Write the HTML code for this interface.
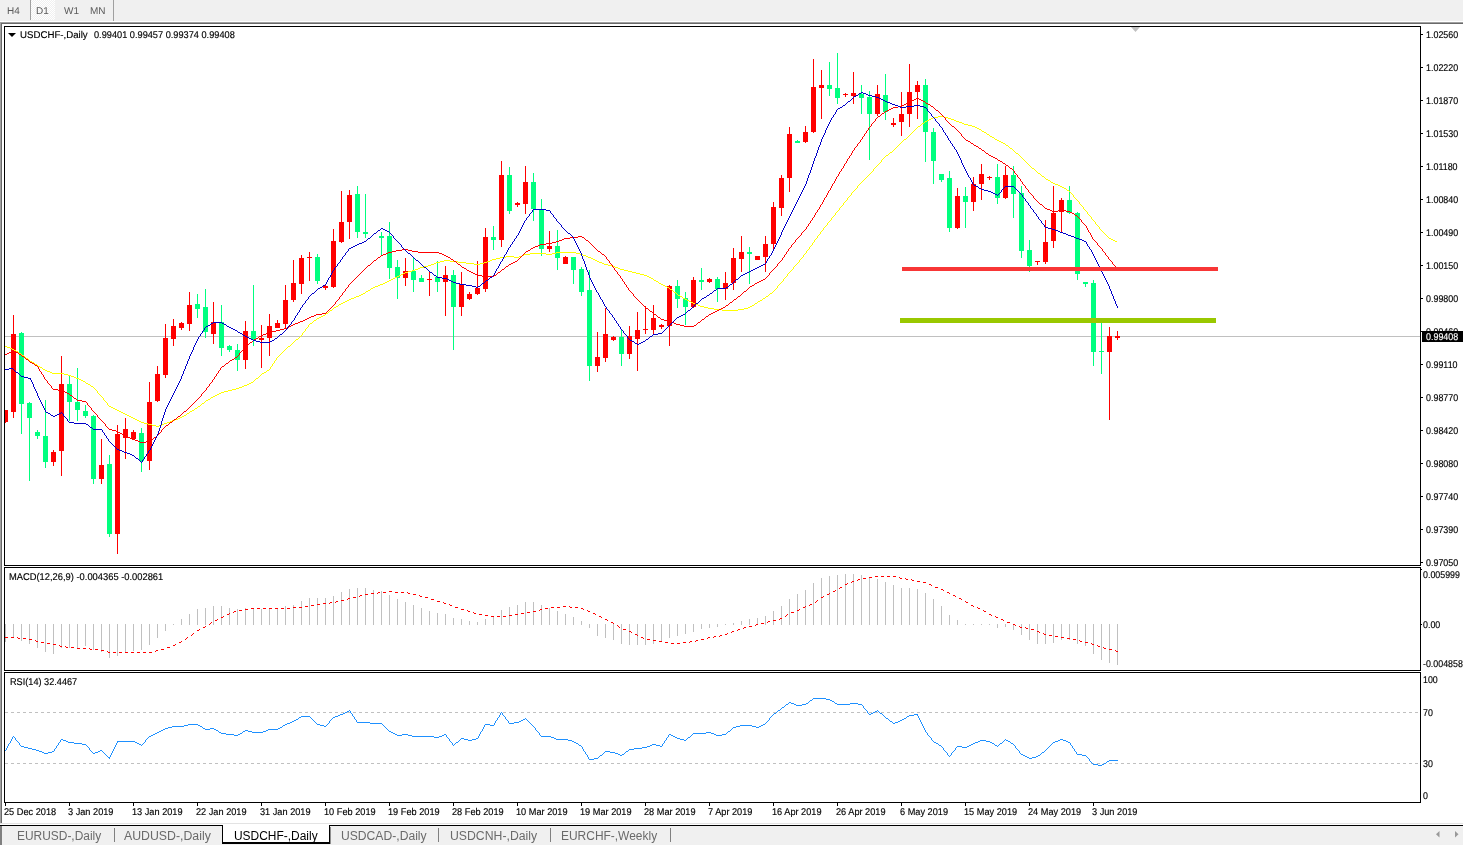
<!DOCTYPE html><html><head><meta charset="utf-8"><title>USDCHF-,Daily</title><style>
html,body{margin:0;padding:0;background:#fff;}
body{width:1463px;height:845px;overflow:hidden;position:relative;font-family:"Liberation Sans",sans-serif;}
#tb{position:absolute;left:0;top:0;width:1463px;height:22px;background:#f0f0f0;}
.tbt{position:absolute;top:4.6px;font-size:9.8px;line-height:12px;transform-origin:0 50%;transform:matrix(1.02,0,0.001,1,0,0);color:#5a5a5a;}
.t{position:absolute;color:#000;white-space:nowrap;transform-origin:0 50%;-webkit-text-stroke:0.15px currentColor;}
.tab{position:absolute;top:828.5px;transform-origin:0 50%;font-size:12px;line-height:14px;color:#6a6a6a;white-space:nowrap;}
svg{position:absolute;left:0;top:0;}

</style></head><body>
<div id="tb"></div>
<svg width="1463" height="845" viewBox="0 0 1463 845" shape-rendering="crispEdges">
<defs><pattern id="dot" width="2" height="2" patternUnits="userSpaceOnUse"><rect width="2" height="2" fill="#f0f0f0"/><rect width="1" height="1" fill="#fff"/><rect x="1" y="1" width="1" height="1" fill="#fff"/></pattern></defs>
<rect x="31" y="0" width="24" height="20" fill="url(#dot)"/>
<rect x="30" y="0" width="1" height="20" fill="#a0a0a0"/>
<rect x="113" y="0" width="1" height="21" fill="#a0a0a0"/>
<rect x="0" y="21" width="1463" height="1" fill="#fff"/>
<rect x="0" y="22" width="1463" height="1" fill="#a0a0a0"/>
<rect x="0" y="23" width="1463" height="1" fill="#696969"/>
<rect x="0" y="23" width="1" height="800" fill="#a0a0a0"/>
<rect x="1" y="24" width="1" height="799" fill="#696969"/>
<rect x="0" y="823" width="1463" height="1" fill="#e3e3e3"/>
<rect x="0" y="826" width="1463" height="19" fill="#f0f0f0"/>
<rect x="0" y="825" width="2" height="20" fill="#808080"/>
<rect x="0" y="825" width="223" height="1" fill="#000"/>
<rect x="329" y="825" width="1134" height="1" fill="#000"/>
<rect x="223" y="824" width="106" height="19" fill="#fff"/>
<rect x="222" y="825" width="1" height="18" fill="#000"/>
<rect x="329" y="825" width="1" height="18" fill="#000"/>
<rect x="222" y="842" width="108" height="1" fill="#000"/>
<rect x="222" y="843" width="108" height="1" fill="#000"/>
<rect x="330" y="827" width="1" height="17" fill="#909090"/>
<rect x="114" y="828" width="1" height="14" fill="#808080"/>
<rect x="438" y="828" width="1" height="14" fill="#808080"/>
<rect x="550" y="828" width="1" height="14" fill="#808080"/>
<rect x="670" y="828" width="1" height="14" fill="#808080"/>
<polygon points="1439.5,831 1439.5,837.5 1436,834.25" fill="#999" shape-rendering="auto"/>
<polygon points="1455,831 1455,837.5 1458.5,834.25" fill="#999" shape-rendering="auto"/>
<rect x="4" y="26" width="1417" height="1" fill="#000"/>
<rect x="4" y="565" width="1417" height="1" fill="#000"/>
<rect x="4" y="567" width="1417" height="1" fill="#000"/>
<rect x="4" y="670" width="1417" height="1" fill="#000"/>
<rect x="4" y="672" width="1417" height="1" fill="#000"/>
<rect x="4" y="802" width="1417" height="1" fill="#000"/>
<rect x="4" y="26" width="1" height="540" fill="#000"/>
<rect x="1420" y="26" width="1" height="540" fill="#000"/>
<rect x="4" y="567" width="1" height="104" fill="#000"/>
<rect x="1420" y="567" width="1" height="104" fill="#000"/>
<rect x="4" y="672" width="1" height="131" fill="#000"/>
<rect x="1420" y="672" width="1" height="131" fill="#000"/>
<rect x="1421" y="34" width="2" height="1" fill="#000"/>
<rect x="1421" y="67" width="2" height="1" fill="#000"/>
<rect x="1421" y="100" width="2" height="1" fill="#000"/>
<rect x="1421" y="133" width="2" height="1" fill="#000"/>
<rect x="1421" y="166" width="2" height="1" fill="#000"/>
<rect x="1421" y="199" width="2" height="1" fill="#000"/>
<rect x="1421" y="232" width="2" height="1" fill="#000"/>
<rect x="1421" y="265" width="2" height="1" fill="#000"/>
<rect x="1421" y="298" width="2" height="1" fill="#000"/>
<rect x="1421" y="331" width="2" height="1" fill="#000"/>
<rect x="1421" y="364" width="2" height="1" fill="#000"/>
<rect x="1421" y="397" width="2" height="1" fill="#000"/>
<rect x="1421" y="430" width="2" height="1" fill="#000"/>
<rect x="1421" y="463" width="2" height="1" fill="#000"/>
<rect x="1421" y="496" width="2" height="1" fill="#000"/>
<rect x="1421" y="529" width="2" height="1" fill="#000"/>
<rect x="1421" y="562" width="2" height="1" fill="#000"/>
<polygon points="1131,27 1140,27 1135.5,32" fill="#c0c0c0" shape-rendering="auto"/>
<polygon points="8,33 16,33 12,37" fill="#000" shape-rendering="auto"/>
<rect x="5" y="336" width="1415" height="1" fill="#c0c0c0"/>
<rect x="5" y="410" width="1" height="13" fill="#ff0000"/>
<rect x="5" y="410" width="3" height="12" fill="#ff0000"/>
<rect x="13" y="315" width="1" height="103" fill="#ff0000"/>
<rect x="11" y="334" width="5" height="78" fill="#ff0000"/>
<rect x="21" y="332" width="1" height="102" fill="#00ff7f"/>
<rect x="19" y="333" width="5" height="71" fill="#00ff7f"/>
<rect x="29" y="402" width="1" height="79" fill="#00ff7f"/>
<rect x="27" y="403" width="5" height="15" fill="#00ff7f"/>
<rect x="37" y="430" width="1" height="9" fill="#00ff7f"/>
<rect x="35" y="432" width="5" height="4" fill="#00ff7f"/>
<rect x="45" y="400" width="1" height="68" fill="#00ff7f"/>
<rect x="43" y="436" width="5" height="26" fill="#00ff7f"/>
<rect x="53" y="450" width="1" height="16" fill="#ff0000"/>
<rect x="51" y="452" width="5" height="10" fill="#ff0000"/>
<rect x="61" y="356" width="1" height="120" fill="#ff0000"/>
<rect x="59" y="384" width="5" height="67" fill="#ff0000"/>
<rect x="69" y="376" width="1" height="45" fill="#00ff7f"/>
<rect x="67" y="384" width="5" height="18" fill="#00ff7f"/>
<rect x="77" y="368" width="1" height="53" fill="#00ff7f"/>
<rect x="75" y="402" width="5" height="8" fill="#00ff7f"/>
<rect x="85" y="405" width="1" height="13" fill="#00ff7f"/>
<rect x="83" y="411" width="5" height="5" fill="#00ff7f"/>
<rect x="93" y="415" width="1" height="69" fill="#00ff7f"/>
<rect x="91" y="416" width="5" height="63" fill="#00ff7f"/>
<rect x="101" y="439" width="1" height="45" fill="#ff0000"/>
<rect x="99" y="465" width="5" height="14" fill="#ff0000"/>
<rect x="109" y="455" width="1" height="82" fill="#00ff7f"/>
<rect x="107" y="464" width="5" height="70" fill="#00ff7f"/>
<rect x="117" y="425" width="1" height="129" fill="#ff0000"/>
<rect x="115" y="434" width="5" height="100" fill="#ff0000"/>
<rect x="125" y="418" width="1" height="41" fill="#ff0000"/>
<rect x="123" y="429" width="5" height="9" fill="#ff0000"/>
<rect x="133" y="430" width="1" height="10" fill="#ff0000"/>
<rect x="131" y="432" width="5" height="7" fill="#ff0000"/>
<rect x="141" y="428" width="1" height="44" fill="#00ff7f"/>
<rect x="139" y="433" width="5" height="28" fill="#00ff7f"/>
<rect x="149" y="382" width="1" height="88" fill="#ff0000"/>
<rect x="147" y="402" width="5" height="59" fill="#ff0000"/>
<rect x="157" y="366" width="1" height="36" fill="#ff0000"/>
<rect x="155" y="374" width="5" height="27" fill="#ff0000"/>
<rect x="165" y="324" width="1" height="54" fill="#ff0000"/>
<rect x="163" y="338" width="5" height="37" fill="#ff0000"/>
<rect x="173" y="319" width="1" height="27" fill="#ff0000"/>
<rect x="171" y="326" width="5" height="13" fill="#ff0000"/>
<rect x="181" y="322" width="1" height="8" fill="#ff0000"/>
<rect x="179" y="323" width="5" height="5" fill="#ff0000"/>
<rect x="189" y="292" width="1" height="39" fill="#ff0000"/>
<rect x="187" y="305" width="5" height="19" fill="#ff0000"/>
<rect x="197" y="294" width="1" height="24" fill="#00ff7f"/>
<rect x="195" y="304" width="5" height="5" fill="#00ff7f"/>
<rect x="205" y="289" width="1" height="49" fill="#00ff7f"/>
<rect x="203" y="307" width="5" height="25" fill="#00ff7f"/>
<rect x="213" y="302" width="1" height="42" fill="#ff0000"/>
<rect x="211" y="322" width="5" height="12" fill="#ff0000"/>
<rect x="221" y="305" width="1" height="51" fill="#00ff7f"/>
<rect x="219" y="322" width="5" height="26" fill="#00ff7f"/>
<rect x="229" y="345" width="1" height="7" fill="#00ff7f"/>
<rect x="227" y="346" width="5" height="4" fill="#00ff7f"/>
<rect x="237" y="344" width="1" height="27" fill="#00ff7f"/>
<rect x="235" y="350" width="5" height="10" fill="#00ff7f"/>
<rect x="245" y="321" width="1" height="48" fill="#ff0000"/>
<rect x="243" y="331" width="5" height="29" fill="#ff0000"/>
<rect x="253" y="285" width="1" height="61" fill="#00ff7f"/>
<rect x="251" y="331" width="5" height="8" fill="#00ff7f"/>
<rect x="261" y="325" width="1" height="43" fill="#ff0000"/>
<rect x="259" y="338" width="5" height="2" fill="#ff0000"/>
<rect x="269" y="314" width="1" height="42" fill="#ff0000"/>
<rect x="267" y="326" width="5" height="12" fill="#ff0000"/>
<rect x="277" y="320" width="1" height="8" fill="#ff0000"/>
<rect x="275" y="323" width="5" height="5" fill="#ff0000"/>
<rect x="285" y="285" width="1" height="43" fill="#ff0000"/>
<rect x="283" y="300" width="5" height="24" fill="#ff0000"/>
<rect x="293" y="260" width="1" height="42" fill="#ff0000"/>
<rect x="291" y="283" width="5" height="17" fill="#ff0000"/>
<rect x="301" y="255" width="1" height="39" fill="#ff0000"/>
<rect x="299" y="258" width="5" height="26" fill="#ff0000"/>
<rect x="309" y="252" width="1" height="29" fill="#ff0000"/>
<rect x="307" y="257" width="5" height="1" fill="#ff0000"/>
<rect x="317" y="254" width="1" height="30" fill="#00ff7f"/>
<rect x="315" y="257" width="5" height="24" fill="#00ff7f"/>
<rect x="325" y="284" width="1" height="6" fill="#ff0000"/>
<rect x="323" y="286" width="5" height="2" fill="#ff0000"/>
<rect x="333" y="229" width="1" height="59" fill="#ff0000"/>
<rect x="331" y="241" width="5" height="46" fill="#ff0000"/>
<rect x="341" y="191" width="1" height="52" fill="#ff0000"/>
<rect x="339" y="222" width="5" height="20" fill="#ff0000"/>
<rect x="349" y="190" width="1" height="49" fill="#ff0000"/>
<rect x="347" y="195" width="5" height="27" fill="#ff0000"/>
<rect x="357" y="186" width="1" height="52" fill="#00ff7f"/>
<rect x="355" y="194" width="5" height="38" fill="#00ff7f"/>
<rect x="365" y="194" width="1" height="44" fill="#00ff7f"/>
<rect x="363" y="232" width="5" height="2" fill="#00ff7f"/>
<rect x="381" y="232" width="1" height="23" fill="#00ff7f"/>
<rect x="379" y="236" width="5" height="2" fill="#00ff7f"/>
<rect x="389" y="222" width="1" height="57" fill="#00ff7f"/>
<rect x="387" y="236" width="5" height="32" fill="#00ff7f"/>
<rect x="397" y="260" width="1" height="39" fill="#00ff7f"/>
<rect x="395" y="267" width="5" height="11" fill="#00ff7f"/>
<rect x="405" y="258" width="1" height="28" fill="#ff0000"/>
<rect x="403" y="271" width="5" height="7" fill="#ff0000"/>
<rect x="413" y="258" width="1" height="34" fill="#00ff7f"/>
<rect x="411" y="271" width="5" height="9" fill="#00ff7f"/>
<rect x="421" y="275" width="1" height="7" fill="#00ff7f"/>
<rect x="419" y="278" width="5" height="4" fill="#00ff7f"/>
<rect x="429" y="272" width="1" height="24" fill="#ff0000"/>
<rect x="427" y="279" width="5" height="1" fill="#ff0000"/>
<rect x="437" y="261" width="1" height="31" fill="#00ff7f"/>
<rect x="435" y="277" width="5" height="5" fill="#00ff7f"/>
<rect x="445" y="266" width="1" height="50" fill="#ff0000"/>
<rect x="443" y="275" width="5" height="7" fill="#ff0000"/>
<rect x="453" y="270" width="1" height="80" fill="#00ff7f"/>
<rect x="451" y="275" width="5" height="32" fill="#00ff7f"/>
<rect x="461" y="272" width="1" height="44" fill="#ff0000"/>
<rect x="459" y="284" width="5" height="23" fill="#ff0000"/>
<rect x="469" y="292" width="1" height="8" fill="#ff0000"/>
<rect x="467" y="294" width="5" height="5" fill="#ff0000"/>
<rect x="477" y="261" width="1" height="34" fill="#ff0000"/>
<rect x="475" y="288" width="5" height="6" fill="#ff0000"/>
<rect x="485" y="228" width="1" height="64" fill="#ff0000"/>
<rect x="483" y="237" width="5" height="52" fill="#ff0000"/>
<rect x="493" y="226" width="1" height="24" fill="#00ff7f"/>
<rect x="491" y="237" width="5" height="3" fill="#00ff7f"/>
<rect x="501" y="161" width="1" height="86" fill="#ff0000"/>
<rect x="499" y="175" width="5" height="65" fill="#ff0000"/>
<rect x="509" y="167" width="1" height="47" fill="#00ff7f"/>
<rect x="507" y="175" width="5" height="36" fill="#00ff7f"/>
<rect x="517" y="202" width="1" height="5" fill="#ff0000"/>
<rect x="515" y="203" width="5" height="2" fill="#ff0000"/>
<rect x="525" y="166" width="1" height="48" fill="#ff0000"/>
<rect x="523" y="182" width="5" height="22" fill="#ff0000"/>
<rect x="533" y="173" width="1" height="48" fill="#00ff7f"/>
<rect x="531" y="182" width="5" height="27" fill="#00ff7f"/>
<rect x="541" y="199" width="1" height="57" fill="#00ff7f"/>
<rect x="539" y="209" width="5" height="40" fill="#00ff7f"/>
<rect x="549" y="231" width="1" height="21" fill="#ff0000"/>
<rect x="547" y="246" width="5" height="3" fill="#ff0000"/>
<rect x="557" y="230" width="1" height="40" fill="#00ff7f"/>
<rect x="555" y="246" width="5" height="12" fill="#00ff7f"/>
<rect x="565" y="256" width="1" height="8" fill="#ff0000"/>
<rect x="563" y="257" width="5" height="7" fill="#ff0000"/>
<rect x="573" y="257" width="1" height="27" fill="#00ff7f"/>
<rect x="571" y="257" width="5" height="13" fill="#00ff7f"/>
<rect x="581" y="267" width="1" height="29" fill="#00ff7f"/>
<rect x="579" y="269" width="5" height="23" fill="#00ff7f"/>
<rect x="589" y="270" width="1" height="111" fill="#00ff7f"/>
<rect x="587" y="290" width="5" height="76" fill="#00ff7f"/>
<rect x="597" y="332" width="1" height="40" fill="#ff0000"/>
<rect x="595" y="357" width="5" height="9" fill="#ff0000"/>
<rect x="605" y="308" width="1" height="54" fill="#ff0000"/>
<rect x="603" y="334" width="5" height="24" fill="#ff0000"/>
<rect x="613" y="336" width="1" height="5" fill="#ff0000"/>
<rect x="611" y="337" width="5" height="3" fill="#ff0000"/>
<rect x="621" y="330" width="1" height="36" fill="#00ff7f"/>
<rect x="619" y="337" width="5" height="17" fill="#00ff7f"/>
<rect x="629" y="326" width="1" height="33" fill="#ff0000"/>
<rect x="627" y="336" width="5" height="18" fill="#ff0000"/>
<rect x="637" y="312" width="1" height="59" fill="#ff0000"/>
<rect x="635" y="330" width="5" height="9" fill="#ff0000"/>
<rect x="645" y="306" width="1" height="28" fill="#ff0000"/>
<rect x="643" y="329" width="5" height="1" fill="#ff0000"/>
<rect x="653" y="305" width="1" height="29" fill="#ff0000"/>
<rect x="651" y="318" width="5" height="12" fill="#ff0000"/>
<rect x="661" y="324" width="1" height="5" fill="#ff0000"/>
<rect x="659" y="325" width="5" height="2" fill="#ff0000"/>
<rect x="669" y="285" width="1" height="61" fill="#ff0000"/>
<rect x="667" y="286" width="5" height="40" fill="#ff0000"/>
<rect x="677" y="280" width="1" height="28" fill="#00ff7f"/>
<rect x="675" y="286" width="5" height="13" fill="#00ff7f"/>
<rect x="685" y="292" width="1" height="33" fill="#00ff7f"/>
<rect x="683" y="298" width="5" height="9" fill="#00ff7f"/>
<rect x="693" y="277" width="1" height="31" fill="#ff0000"/>
<rect x="691" y="280" width="5" height="27" fill="#ff0000"/>
<rect x="701" y="268" width="1" height="22" fill="#00ff7f"/>
<rect x="699" y="280" width="5" height="2" fill="#00ff7f"/>
<rect x="709" y="278" width="1" height="5" fill="#ff0000"/>
<rect x="707" y="279" width="5" height="3" fill="#ff0000"/>
<rect x="717" y="277" width="1" height="25" fill="#00ff7f"/>
<rect x="715" y="279" width="5" height="10" fill="#00ff7f"/>
<rect x="725" y="272" width="1" height="28" fill="#ff0000"/>
<rect x="723" y="283" width="5" height="6" fill="#ff0000"/>
<rect x="733" y="248" width="1" height="42" fill="#ff0000"/>
<rect x="731" y="258" width="5" height="25" fill="#ff0000"/>
<rect x="741" y="236" width="1" height="36" fill="#ff0000"/>
<rect x="739" y="252" width="5" height="7" fill="#ff0000"/>
<rect x="749" y="247" width="1" height="37" fill="#00ff7f"/>
<rect x="747" y="252" width="5" height="2" fill="#00ff7f"/>
<rect x="757" y="256" width="1" height="4" fill="#ff0000"/>
<rect x="755" y="256" width="5" height="4" fill="#ff0000"/>
<rect x="765" y="236" width="1" height="36" fill="#ff0000"/>
<rect x="763" y="244" width="5" height="13" fill="#ff0000"/>
<rect x="773" y="202" width="1" height="48" fill="#ff0000"/>
<rect x="771" y="207" width="5" height="37" fill="#ff0000"/>
<rect x="781" y="175" width="1" height="41" fill="#ff0000"/>
<rect x="779" y="178" width="5" height="30" fill="#ff0000"/>
<rect x="789" y="127" width="1" height="65" fill="#ff0000"/>
<rect x="787" y="134" width="5" height="44" fill="#ff0000"/>
<rect x="797" y="140" width="1" height="3" fill="#00ff7f"/>
<rect x="795" y="141" width="5" height="2" fill="#00ff7f"/>
<rect x="805" y="126" width="1" height="17" fill="#ff0000"/>
<rect x="803" y="132" width="5" height="10" fill="#ff0000"/>
<rect x="813" y="59" width="1" height="74" fill="#ff0000"/>
<rect x="811" y="87" width="5" height="45" fill="#ff0000"/>
<rect x="821" y="70" width="1" height="49" fill="#ff0000"/>
<rect x="819" y="85" width="5" height="3" fill="#ff0000"/>
<rect x="829" y="62" width="1" height="34" fill="#00ff7f"/>
<rect x="827" y="85" width="5" height="4" fill="#00ff7f"/>
<rect x="837" y="53" width="1" height="51" fill="#00ff7f"/>
<rect x="835" y="88" width="5" height="10" fill="#00ff7f"/>
<rect x="845" y="93" width="1" height="4" fill="#ff0000"/>
<rect x="843" y="94" width="5" height="1" fill="#ff0000"/>
<rect x="853" y="72" width="1" height="32" fill="#ff0000"/>
<rect x="851" y="93" width="5" height="3" fill="#ff0000"/>
<rect x="861" y="85" width="1" height="29" fill="#00ff7f"/>
<rect x="859" y="94" width="5" height="4" fill="#00ff7f"/>
<rect x="869" y="91" width="1" height="69" fill="#00ff7f"/>
<rect x="867" y="97" width="5" height="17" fill="#00ff7f"/>
<rect x="877" y="85" width="1" height="31" fill="#ff0000"/>
<rect x="875" y="94" width="5" height="20" fill="#ff0000"/>
<rect x="885" y="74" width="1" height="46" fill="#00ff7f"/>
<rect x="883" y="95" width="5" height="17" fill="#00ff7f"/>
<rect x="893" y="118" width="1" height="9" fill="#ff0000"/>
<rect x="891" y="123" width="5" height="2" fill="#ff0000"/>
<rect x="901" y="92" width="1" height="44" fill="#ff0000"/>
<rect x="899" y="114" width="5" height="8" fill="#ff0000"/>
<rect x="909" y="64" width="1" height="63" fill="#ff0000"/>
<rect x="907" y="92" width="5" height="22" fill="#ff0000"/>
<rect x="917" y="81" width="1" height="38" fill="#ff0000"/>
<rect x="915" y="85" width="5" height="7" fill="#ff0000"/>
<rect x="925" y="79" width="1" height="83" fill="#00ff7f"/>
<rect x="923" y="85" width="5" height="47" fill="#00ff7f"/>
<rect x="933" y="128" width="1" height="56" fill="#00ff7f"/>
<rect x="931" y="132" width="5" height="29" fill="#00ff7f"/>
<rect x="941" y="174" width="1" height="8" fill="#00ff7f"/>
<rect x="939" y="174" width="5" height="6" fill="#00ff7f"/>
<rect x="949" y="171" width="1" height="61" fill="#00ff7f"/>
<rect x="947" y="178" width="5" height="50" fill="#00ff7f"/>
<rect x="957" y="188" width="1" height="41" fill="#ff0000"/>
<rect x="955" y="196" width="5" height="32" fill="#ff0000"/>
<rect x="965" y="187" width="1" height="41" fill="#00ff7f"/>
<rect x="963" y="196" width="5" height="6" fill="#00ff7f"/>
<rect x="973" y="177" width="1" height="34" fill="#ff0000"/>
<rect x="971" y="184" width="5" height="18" fill="#ff0000"/>
<rect x="981" y="164" width="1" height="36" fill="#ff0000"/>
<rect x="979" y="174" width="5" height="10" fill="#ff0000"/>
<rect x="989" y="176" width="1" height="4" fill="#ff0000"/>
<rect x="987" y="177" width="5" height="1" fill="#ff0000"/>
<rect x="997" y="164" width="1" height="40" fill="#00ff7f"/>
<rect x="995" y="177" width="5" height="21" fill="#00ff7f"/>
<rect x="1005" y="166" width="1" height="33" fill="#ff0000"/>
<rect x="1003" y="175" width="5" height="23" fill="#ff0000"/>
<rect x="1013" y="166" width="1" height="52" fill="#00ff7f"/>
<rect x="1011" y="175" width="5" height="19" fill="#00ff7f"/>
<rect x="1021" y="186" width="1" height="72" fill="#00ff7f"/>
<rect x="1019" y="193" width="5" height="58" fill="#00ff7f"/>
<rect x="1029" y="240" width="1" height="32" fill="#00ff7f"/>
<rect x="1027" y="250" width="5" height="16" fill="#00ff7f"/>
<rect x="1037" y="261" width="1" height="4" fill="#ff0000"/>
<rect x="1035" y="261" width="5" height="1" fill="#ff0000"/>
<rect x="1045" y="220" width="1" height="44" fill="#ff0000"/>
<rect x="1043" y="242" width="5" height="20" fill="#ff0000"/>
<rect x="1053" y="186" width="1" height="62" fill="#ff0000"/>
<rect x="1051" y="213" width="5" height="28" fill="#ff0000"/>
<rect x="1061" y="198" width="1" height="34" fill="#ff0000"/>
<rect x="1059" y="200" width="5" height="12" fill="#ff0000"/>
<rect x="1069" y="186" width="1" height="28" fill="#00ff7f"/>
<rect x="1067" y="200" width="5" height="13" fill="#00ff7f"/>
<rect x="1077" y="212" width="1" height="68" fill="#00ff7f"/>
<rect x="1075" y="213" width="5" height="61" fill="#00ff7f"/>
<rect x="1085" y="282" width="1" height="5" fill="#00ff7f"/>
<rect x="1083" y="282" width="5" height="2" fill="#00ff7f"/>
<rect x="1093" y="280" width="1" height="86" fill="#00ff7f"/>
<rect x="1091" y="283" width="5" height="69" fill="#00ff7f"/>
<rect x="1101" y="322" width="1" height="52" fill="#00ff7f"/>
<rect x="1099" y="351" width="5" height="1" fill="#00ff7f"/>
<rect x="1109" y="327" width="1" height="93" fill="#ff0000"/>
<rect x="1107" y="336" width="5" height="16" fill="#ff0000"/>
<rect x="1117" y="331" width="1" height="9" fill="#ff0000"/>
<rect x="1115" y="336" width="5" height="2" fill="#ff0000"/>
<path d="M5 346h2v1h-2zM7 347h3v1h-3zM10 348h2v1h-2zM12 349h2v1h-2zM14 350h2v1h-2zM16 351h2v1h-2zM18 352h1v1h-1zM19 353h2v1h-2zM21 354h1v1h-1zM22 355h2v1h-2zM24 356h1v1h-1zM25 357h1v1h-1zM26 358h2v1h-2zM28 359h1v1h-1zM29 360h1v1h-1zM30 361h2v1h-2zM32 362h2v1h-2zM34 363h1v1h-1zM35 364h2v1h-2zM37 365h1v1h-1zM38 366h2v1h-2zM40 367h2v1h-2zM42 368h1v1h-1zM43 369h2v1h-2zM45 370h2v1h-2zM47 371h3v1h-3zM50 372h2v1h-2zM52 373h12v1h-12zM64 374h4v1h-4zM68 375h3v1h-3zM71 376h3v1h-3zM74 377h2v1h-2zM76 378h3v1h-3zM79 379h2v1h-2zM81 380h2v1h-2zM83 381h2v1h-2zM85 382h1v1h-1zM86 383h2v1h-2zM88 384h2v1h-2zM90 385h1v1h-1zM91 386h2v1h-2zM93 387h1v1h-1zM94 388h1v1h-1zM95 389h1v1h-1zM96 390h1v1h-1zM97 391h1v2h-1zM98 393h1v1h-1zM99 394h1v1h-1zM100 395h1v1h-1zM101 396h1v1h-1zM102 397h1v1h-1zM103 398h1v2h-1zM104 400h1v1h-1zM105 401h1v1h-1zM106 402h1v1h-1zM107 403h1v2h-1zM108 405h1v1h-1zM109 406h2v1h-2zM111 407h2v1h-2zM113 408h2v1h-2zM115 409h2v1h-2zM117 410h2v1h-2zM119 411h2v1h-2zM121 412h2v1h-2zM123 413h2v1h-2zM125 414h2v1h-2zM127 415h2v1h-2zM129 416h2v1h-2zM131 417h2v1h-2zM133 418h2v1h-2zM135 419h2v1h-2zM137 420h2v1h-2zM139 421h2v1h-2zM141 422h3v1h-3zM144 423h4v1h-4zM148 424h4v1h-4zM152 425h4v1h-4zM156 426h3v1h-3zM159 425h3v1h-3zM162 424h2v1h-2zM164 423h3v1h-3zM167 422h3v1h-3zM170 421h2v1h-2zM172 420h3v1h-3zM175 419h3v1h-3zM178 418h2v1h-2zM180 417h2v1h-2zM182 416h2v1h-2zM184 415h2v1h-2zM186 414h1v1h-1zM187 413h2v1h-2zM189 412h1v1h-1zM190 411h2v1h-2zM192 410h2v1h-2zM194 409h1v1h-1zM195 408h2v1h-2zM197 407h1v1h-1zM198 406h2v1h-2zM200 405h1v1h-1zM201 404h1v1h-1zM202 403h2v1h-2zM204 402h1v1h-1zM205 401h1v1h-1zM206 400h2v1h-2zM208 399h2v1h-2zM210 398h1v1h-1zM211 397h2v1h-2zM213 396h2v1h-2zM215 395h2v1h-2zM217 394h2v1h-2zM219 393h2v1h-2zM221 392h3v1h-3zM224 391h4v1h-4zM228 390h4v1h-4zM232 389h4v1h-4zM236 388h3v1h-3zM239 387h3v1h-3zM242 386h2v1h-2zM244 385h3v1h-3zM247 384h2v1h-2zM249 383h2v1h-2zM251 382h2v1h-2zM253 381h1v1h-1zM254 380h1v1h-1zM255 379h1v1h-1zM256 378h2v1h-2zM258 377h1v1h-1zM259 376h1v1h-1zM260 375h1v1h-1zM261 374h1v1h-1zM262 373h2v1h-2zM264 372h2v1h-2zM266 371h1v1h-1zM267 370h2v1h-2zM269 369h1v1h-1zM270 367h1v2h-1zM271 366h1v1h-1zM272 364h1v2h-1zM273 363h1v1h-1zM274 361h1v2h-1zM275 360h1v1h-1zM276 358h1v2h-1zM277 357h1v1h-1zM278 356h1v1h-1zM279 355h1v1h-1zM280 354h1v1h-1zM281 353h1v1h-1zM282 352h1v1h-1zM283 351h1v1h-1zM284 350h1v1h-1zM285 349h1v1h-1zM286 348h1v1h-1zM287 347h1v1h-1zM288 346h2v1h-2zM290 345h1v1h-1zM291 344h1v1h-1zM292 343h1v1h-1zM293 342h1v1h-1zM294 341h1v1h-1zM295 340h1v1h-1zM296 339h2v1h-2zM298 338h1v1h-1zM299 337h1v1h-1zM300 336h1v1h-1zM301 335h1v1h-1zM302 333h1v2h-1zM303 332h1v1h-1zM304 331h1v1h-1zM305 329h1v2h-1zM306 328h1v1h-1zM307 327h1v1h-1zM308 325h1v2h-1zM309 324h1v1h-1zM310 323h2v1h-2zM312 322h1v1h-1zM313 321h1v1h-1zM314 320h2v1h-2zM316 319h1v1h-1zM317 318h2v1h-2zM319 317h2v1h-2zM321 316h2v1h-2zM323 315h2v1h-2zM325 314h1v1h-1zM326 313h2v1h-2zM328 312h1v1h-1zM329 311h1v1h-1zM330 310h2v1h-2zM332 309h1v1h-1zM333 308h1v1h-1zM334 307h2v1h-2zM336 306h2v1h-2zM338 305h1v1h-1zM339 304h2v1h-2zM341 303h2v1h-2zM343 302h2v1h-2zM345 301h2v1h-2zM347 300h2v1h-2zM349 299h2v1h-2zM351 298h3v1h-3zM354 297h2v1h-2zM356 296h3v1h-3zM359 295h2v1h-2zM361 294h2v1h-2zM363 293h2v1h-2zM365 292h1v1h-1zM366 291h2v1h-2zM368 290h2v1h-2zM370 289h1v1h-1zM371 288h2v1h-2zM373 287h2v1h-2zM375 286h3v1h-3zM378 285h2v1h-2zM380 284h3v1h-3zM383 283h2v1h-2zM385 282h2v1h-2zM387 281h2v1h-2zM389 280h2v1h-2zM391 279h2v1h-2zM393 278h2v1h-2zM395 277h2v1h-2zM397 276h2v1h-2zM399 275h2v1h-2zM401 274h2v1h-2zM403 273h2v1h-2zM405 272h3v1h-3zM408 271h4v1h-4zM412 270h3v1h-3zM415 269h3v1h-3zM418 268h2v1h-2zM420 267h4v1h-4zM424 266h4v1h-4zM428 265h3v1h-3zM431 264h3v1h-3zM434 263h2v1h-2zM436 262h4v1h-4zM440 261h4v1h-4zM444 260h6v1h-6zM450 261h8v1h-8zM458 262h8v1h-8zM466 263h8v1h-8zM474 264h6v1h-6zM480 263h4v1h-4zM484 262h3v1h-3zM487 261h3v1h-3zM490 260h2v1h-2zM492 259h4v1h-4zM496 258h4v1h-4zM500 257h6v1h-6zM506 256h8v1h-8zM514 257h5v1h-5zM519 256h3v1h-3zM522 255h2v1h-2zM524 254h6v1h-6zM530 253h16v1h-16zM546 254h6v1h-6zM552 253h4v1h-4zM556 252h20v1h-20zM576 253h4v1h-4zM580 254h3v1h-3zM583 255h3v1h-3zM586 256h2v1h-2zM588 257h3v1h-3zM591 258h2v1h-2zM593 259h2v1h-2zM595 260h2v1h-2zM597 261h2v1h-2zM599 262h3v1h-3zM602 263h2v1h-2zM604 264h4v1h-4zM608 265h4v1h-4zM612 266h3v1h-3zM615 267h3v1h-3zM618 268h2v1h-2zM620 269h4v1h-4zM624 270h4v1h-4zM628 271h4v1h-4zM632 272h4v1h-4zM636 273h4v1h-4zM640 274h4v1h-4zM644 275h3v1h-3zM647 276h2v1h-2zM649 277h2v1h-2zM651 278h2v1h-2zM653 279h1v1h-1zM654 280h2v1h-2zM656 281h2v1h-2zM658 282h1v1h-1zM659 283h2v1h-2zM661 284h2v1h-2zM663 285h2v1h-2zM665 286h2v1h-2zM667 287h2v1h-2zM669 288h1v1h-1zM670 289h2v1h-2zM672 290h1v1h-1zM673 291h1v1h-1zM674 292h2v1h-2zM676 293h1v1h-1zM677 294h1v1h-1zM678 295h2v1h-2zM680 296h2v1h-2zM682 297h1v1h-1zM683 298h2v1h-2zM685 299h2v1h-2zM687 300h2v1h-2zM689 301h2v1h-2zM691 302h2v1h-2zM693 303h2v1h-2zM695 304h3v1h-3zM698 305h2v1h-2zM700 306h4v1h-4zM704 307h4v1h-4zM708 308h6v1h-6zM714 309h8v1h-8zM722 310h16v1h-16zM738 309h6v1h-6zM744 308h4v1h-4zM748 307h2v1h-2zM750 306h2v1h-2zM752 305h2v1h-2zM754 304h1v1h-1zM755 303h2v1h-2zM757 302h1v1h-1zM758 301h2v1h-2zM760 300h2v1h-2zM762 299h1v1h-1zM763 298h2v1h-2zM765 297h1v1h-1zM766 296h2v1h-2zM768 295h1v1h-1zM769 294h1v1h-1zM770 293h2v1h-2zM772 292h1v1h-1zM773 291h1v1h-1zM774 290h1v1h-1zM775 289h1v1h-1zM776 288h1v1h-1zM777 286h1v2h-1zM778 285h1v1h-1zM779 284h1v1h-1zM780 283h1v1h-1zM781 282h1v1h-1zM782 281h1v1h-1zM783 279h1v2h-1zM784 278h1v1h-1zM785 277h1v1h-1zM786 276h1v1h-1zM787 274h1v2h-1zM788 273h1v1h-1zM789 272h1v1h-1zM790 271h1v1h-1zM791 270h1v1h-1zM792 269h1v1h-1zM793 267h1v2h-1zM794 266h1v1h-1zM795 265h1v1h-1zM796 264h1v1h-1zM797 263h1v1h-1zM798 262h1v1h-1zM799 260h1v2h-1zM800 259h1v1h-1zM801 258h1v1h-1zM802 257h1v1h-1zM803 255h1v2h-1zM804 254h1v1h-1zM805 253h1v1h-1zM806 251h1v2h-1zM807 250h1v1h-1zM808 249h1v1h-1zM809 247h1v2h-1zM810 246h1v1h-1zM811 245h1v1h-1zM812 243h1v2h-1zM813 242h1v1h-1zM814 240h1v2h-1zM815 239h1v1h-1zM816 238h1v1h-1zM817 236h1v2h-1zM818 235h1v1h-1zM819 234h1v1h-1zM820 232h1v2h-1zM821 231h1v1h-1zM822 230h1v1h-1zM823 228h1v2h-1zM824 227h1v1h-1zM825 226h1v1h-1zM826 225h1v1h-1zM827 223h1v2h-1zM828 222h1v1h-1zM829 221h1v1h-1zM830 220h1v1h-1zM831 218h1v2h-1zM832 217h1v1h-1zM833 216h1v1h-1zM834 215h1v1h-1zM835 213h1v2h-1zM836 212h1v1h-1zM837 211h1v1h-1zM838 210h1v1h-1zM839 208h1v2h-1zM840 207h1v1h-1zM841 206h1v1h-1zM842 205h1v1h-1zM843 203h1v2h-1zM844 202h1v1h-1zM845 201h1v1h-1zM846 200h1v1h-1zM847 198h1v2h-1zM848 197h1v1h-1zM849 196h1v1h-1zM850 195h1v1h-1zM851 193h1v2h-1zM852 192h1v1h-1zM853 191h1v1h-1zM854 190h1v1h-1zM855 189h1v1h-1zM856 188h1v1h-1zM857 186h1v2h-1zM858 185h1v1h-1zM859 184h1v1h-1zM860 183h1v1h-1zM861 182h1v1h-1zM862 181h1v1h-1zM863 180h1v1h-1zM864 179h1v1h-1zM865 178h1v1h-1zM866 177h1v1h-1zM867 176h1v1h-1zM868 175h1v1h-1zM869 174h1v1h-1zM870 173h1v1h-1zM871 172h1v1h-1zM872 171h1v1h-1zM873 169h1v2h-1zM874 168h1v1h-1zM875 167h1v1h-1zM876 166h1v1h-1zM877 165h1v1h-1zM878 164h1v1h-1zM879 163h1v1h-1zM880 162h1v1h-1zM881 160h1v2h-1zM882 159h1v1h-1zM883 158h1v1h-1zM884 157h1v1h-1zM885 156h1v1h-1zM886 155h2v1h-2zM888 154h1v1h-1zM889 153h1v1h-1zM890 152h2v1h-2zM892 151h1v1h-1zM893 150h1v1h-1zM894 149h1v1h-1zM895 148h1v1h-1zM896 147h1v1h-1zM897 146h1v1h-1zM898 145h1v1h-1zM899 144h1v1h-1zM900 143h1v1h-1zM901 142h1v1h-1zM902 141h1v1h-1zM903 140h1v1h-1zM904 139h2v1h-2zM906 138h1v1h-1zM907 137h1v1h-1zM908 136h1v1h-1zM909 135h1v1h-1zM910 134h1v1h-1zM911 133h1v1h-1zM912 132h1v1h-1zM913 131h1v1h-1zM914 130h1v1h-1zM915 129h1v1h-1zM916 128h1v1h-1zM917 127h1v1h-1zM918 126h2v1h-2zM920 125h1v1h-1zM921 124h1v1h-1zM922 123h2v1h-2zM924 122h1v1h-1zM925 121h2v1h-2zM927 120h2v1h-2zM929 119h2v1h-2zM931 118h2v1h-2zM933 117h5v1h-5zM938 116h6v1h-6zM944 117h4v1h-4zM948 118h3v1h-3zM951 119h3v1h-3zM954 120h2v1h-2zM956 121h3v1h-3zM959 122h3v1h-3zM962 123h2v1h-2zM964 124h4v1h-4zM968 125h4v1h-4zM972 126h3v1h-3zM975 127h2v1h-2zM977 128h2v1h-2zM979 129h2v1h-2zM981 130h1v1h-1zM982 131h2v1h-2zM984 132h2v1h-2zM986 133h1v1h-1zM987 134h2v1h-2zM989 135h1v1h-1zM990 136h2v1h-2zM992 137h2v1h-2zM994 138h1v1h-1zM995 139h2v1h-2zM997 140h2v1h-2zM999 141h2v1h-2zM1001 142h2v1h-2zM1003 143h2v1h-2zM1005 144h1v1h-1zM1006 145h2v1h-2zM1008 146h1v1h-1zM1009 147h1v1h-1zM1010 148h2v1h-2zM1012 149h1v1h-1zM1013 150h1v1h-1zM1014 151h1v1h-1zM1015 152h1v1h-1zM1016 153h2v1h-2zM1018 154h1v1h-1zM1019 155h1v1h-1zM1020 156h1v1h-1zM1021 157h1v1h-1zM1022 158h1v1h-1zM1023 159h1v1h-1zM1024 160h1v1h-1zM1025 161h1v1h-1zM1026 162h1v1h-1zM1027 163h1v1h-1zM1028 164h1v1h-1zM1029 165h1v1h-1zM1030 166h1v1h-1zM1031 167h1v1h-1zM1032 168h2v1h-2zM1034 169h1v1h-1zM1035 170h1v1h-1zM1036 171h1v1h-1zM1037 172h1v1h-1zM1038 173h2v1h-2zM1040 174h1v1h-1zM1041 175h1v1h-1zM1042 176h2v1h-2zM1044 177h1v1h-1zM1045 178h1v1h-1zM1046 179h2v1h-2zM1048 180h2v1h-2zM1050 181h1v1h-1zM1051 182h2v1h-2zM1053 183h2v1h-2zM1055 184h3v1h-3zM1058 185h2v1h-2zM1060 186h2v1h-2zM1062 187h2v1h-2zM1064 188h2v1h-2zM1066 189h1v1h-1zM1067 190h2v1h-2zM1069 191h1v1h-1zM1070 192h1v1h-1zM1071 193h1v1h-1zM1072 194h1v1h-1zM1073 195h1v2h-1zM1074 197h1v1h-1zM1075 198h1v1h-1zM1076 199h1v1h-1zM1077 200h1v1h-1zM1078 201h1v1h-1zM1079 202h1v2h-1zM1080 204h1v1h-1zM1081 205h1v1h-1zM1082 206h1v1h-1zM1083 207h1v2h-1zM1084 209h1v1h-1zM1085 210h1v1h-1zM1086 211h1v1h-1zM1087 212h1v2h-1zM1088 214h1v1h-1zM1089 215h1v1h-1zM1090 216h1v1h-1zM1091 217h1v2h-1zM1092 219h1v1h-1zM1093 220h1v1h-1zM1094 221h1v1h-1zM1095 222h1v2h-1zM1096 224h1v1h-1zM1097 225h1v1h-1zM1098 226h1v1h-1zM1099 227h1v2h-1zM1100 229h1v1h-1zM1101 230h1v1h-1zM1102 231h1v1h-1zM1103 232h1v1h-1zM1104 233h1v1h-1zM1105 234h1v1h-1zM1106 235h1v1h-1zM1107 236h1v1h-1zM1108 237h1v1h-1zM1109 238h2v1h-2zM1111 239h2v1h-2zM1113 240h2v1h-2zM1115 241h2v1h-2z" fill="#ffff00"/>
<path d="M5 354h2v1h-2zM7 353h2v1h-2zM9 352h2v1h-2zM11 351h2v1h-2zM13 350h1v1h-1zM14 351h2v1h-2zM16 352h2v1h-2zM18 353h1v1h-1zM19 354h2v1h-2zM21 355h1v1h-1zM22 356h2v1h-2zM24 357h1v1h-1zM25 358h1v1h-1zM26 359h2v1h-2zM28 360h1v1h-1zM29 361h1v1h-1zM30 362h2v1h-2zM32 363h2v1h-2zM34 364h1v1h-1zM35 365h2v1h-2zM37 366h1v1h-1zM38 367h1v2h-1zM39 369h1v2h-1zM40 371h1v1h-1zM41 372h1v2h-1zM42 374h1v1h-1zM43 375h1v2h-1zM44 377h1v2h-1zM45 379h1v1h-1zM46 380h1v1h-1zM47 381h1v2h-1zM48 383h1v1h-1zM49 384h1v1h-1zM50 385h1v1h-1zM51 386h1v2h-1zM52 388h1v1h-1zM53 389h5v1h-5zM58 390h5v1h-5zM63 391h2v1h-2zM65 392h2v1h-2zM67 393h2v1h-2zM69 394h1v1h-1zM70 395h2v1h-2zM72 396h1v1h-1zM73 397h1v1h-1zM74 398h2v1h-2zM76 399h1v1h-1zM77 400h5v1h-5zM82 401h4v1h-4zM86 402h1v1h-1zM87 403h1v2h-1zM88 405h1v1h-1zM89 406h1v1h-1zM90 407h1v1h-1zM91 408h1v2h-1zM92 410h1v1h-1zM93 411h1v1h-1zM94 412h1v1h-1zM95 413h1v1h-1zM96 414h1v1h-1zM97 415h1v2h-1zM98 417h1v1h-1zM99 418h1v1h-1zM100 419h1v1h-1zM101 420h1v1h-1zM102 421h1v1h-1zM103 422h1v1h-1zM104 423h1v1h-1zM105 424h1v2h-1zM106 426h1v1h-1zM107 427h1v1h-1zM108 428h1v1h-1zM109 429h3v1h-3zM112 430h4v1h-4zM116 431h2v1h-2zM118 432h2v1h-2zM120 433h2v1h-2zM122 434h1v1h-1zM123 435h2v1h-2zM125 436h2v1h-2zM127 437h3v1h-3zM130 438h2v1h-2zM132 439h3v1h-3zM135 440h3v1h-3zM138 441h2v1h-2zM140 442h6v1h-6zM146 441h4v1h-4zM150 440h2v1h-2zM152 439h1v1h-1zM153 438h1v1h-1zM154 437h2v1h-2zM156 436h1v1h-1zM157 435h1v1h-1zM158 434h1v1h-1zM159 433h1v1h-1zM160 432h1v1h-1zM161 430h1v2h-1zM162 429h1v1h-1zM163 428h1v1h-1zM164 427h1v1h-1zM165 426h1v1h-1zM166 425h2v1h-2zM168 424h1v1h-1zM169 423h1v1h-1zM170 422h2v1h-2zM172 421h1v1h-1zM173 420h1v1h-1zM174 419h2v1h-2zM176 418h1v1h-1zM177 417h1v1h-1zM178 416h2v1h-2zM180 415h1v1h-1zM181 414h1v1h-1zM182 413h1v1h-1zM183 412h1v1h-1zM184 411h2v1h-2zM186 410h1v1h-1zM187 409h1v1h-1zM188 408h1v1h-1zM189 407h1v1h-1zM190 406h1v1h-1zM191 405h1v1h-1zM192 404h1v1h-1zM193 403h1v1h-1zM194 402h1v1h-1zM195 401h1v1h-1zM196 400h1v1h-1zM197 399h1v1h-1zM198 398h1v1h-1zM199 397h1v1h-1zM200 396h1v1h-1zM201 394h1v2h-1zM202 393h1v1h-1zM203 392h1v1h-1zM204 391h1v1h-1zM205 390h1v1h-1zM206 388h1v2h-1zM207 387h1v1h-1zM208 386h1v1h-1zM209 384h1v2h-1zM210 383h1v1h-1zM211 382h1v1h-1zM212 380h1v2h-1zM213 379h1v1h-1zM214 377h1v2h-1zM215 376h1v1h-1zM216 374h1v2h-1zM217 373h1v1h-1zM218 371h1v2h-1zM219 370h1v1h-1zM220 368h1v2h-1zM221 367h1v1h-1zM222 366h2v1h-2zM224 365h1v1h-1zM225 364h1v1h-1zM226 363h2v1h-2zM228 362h1v1h-1zM229 361h1v1h-1zM230 360h2v1h-2zM232 359h2v1h-2zM234 358h1v1h-1zM235 357h2v1h-2zM237 356h1v1h-1zM238 355h1v1h-1zM239 353h1v2h-1zM240 352h1v1h-1zM241 351h1v1h-1zM242 350h1v1h-1zM243 348h1v2h-1zM244 347h1v1h-1zM245 346h1v1h-1zM246 345h2v1h-2zM248 344h1v1h-1zM249 343h1v1h-1zM250 342h2v1h-2zM252 341h1v1h-1zM253 340h1v1h-1zM254 339h2v1h-2zM256 338h2v1h-2zM258 337h1v1h-1zM259 336h2v1h-2zM261 335h2v1h-2zM263 334h3v1h-3zM266 333h2v1h-2zM268 332h4v1h-4zM272 331h4v1h-4zM276 330h4v1h-4zM280 329h4v1h-4zM284 328h3v1h-3zM287 327h2v1h-2zM289 326h2v1h-2zM291 325h2v1h-2zM293 324h2v1h-2zM295 323h3v1h-3zM298 322h2v1h-2zM300 321h3v1h-3zM303 320h2v1h-2zM305 319h2v1h-2zM307 318h2v1h-2zM309 317h2v1h-2zM311 316h3v1h-3zM314 315h2v1h-2zM316 314h6v1h-6zM322 313h4v1h-4zM326 312h1v1h-1zM327 311h1v1h-1zM328 310h1v1h-1zM329 309h1v1h-1zM330 308h1v1h-1zM331 307h1v1h-1zM332 306h1v1h-1zM333 305h1v1h-1zM334 304h1v1h-1zM335 302h1v2h-1zM336 301h1v1h-1zM337 300h1v1h-1zM338 299h1v1h-1zM339 297h1v2h-1zM340 296h1v1h-1zM341 295h1v1h-1zM342 293h1v2h-1zM343 292h1v1h-1zM344 291h1v1h-1zM345 289h1v2h-1zM346 288h1v1h-1zM347 287h1v1h-1zM348 285h1v2h-1zM349 284h1v1h-1zM350 283h1v1h-1zM351 282h1v1h-1zM352 281h1v1h-1zM353 280h1v1h-1zM354 279h1v1h-1zM355 278h1v1h-1zM356 277h1v1h-1zM357 276h1v1h-1zM358 275h1v1h-1zM359 274h1v1h-1zM360 273h1v1h-1zM361 272h1v1h-1zM362 271h1v1h-1zM363 270h1v1h-1zM364 269h1v1h-1zM365 268h1v1h-1zM366 267h1v1h-1zM367 266h1v1h-1zM368 265h2v1h-2zM370 264h1v1h-1zM371 263h1v1h-1zM372 262h1v1h-1zM373 261h1v1h-1zM374 260h2v1h-2zM376 259h1v1h-1zM377 258h1v1h-1zM378 257h2v1h-2zM380 256h1v1h-1zM381 255h2v1h-2zM383 254h3v1h-3zM386 253h2v1h-2zM388 252h4v1h-4zM392 251h4v1h-4zM396 250h6v1h-6zM402 249h6v1h-6zM408 250h4v1h-4zM412 251h6v1h-6zM418 252h21v1h-21zM439 253h3v1h-3zM442 254h2v1h-2zM444 255h2v1h-2zM446 256h2v1h-2zM448 257h2v1h-2zM450 258h1v1h-1zM451 259h2v1h-2zM453 260h1v1h-1zM454 261h2v1h-2zM456 262h1v1h-1zM457 263h1v1h-1zM458 264h2v1h-2zM460 265h1v1h-1zM461 266h1v1h-1zM462 267h2v1h-2zM464 268h2v1h-2zM466 269h1v1h-1zM467 270h2v1h-2zM469 271h2v1h-2zM471 272h2v1h-2zM473 273h2v1h-2zM475 274h2v1h-2zM477 275h5v1h-5zM482 276h12v1h-12zM494 275h2v1h-2zM496 274h1v1h-1zM497 273h1v1h-1zM498 272h2v1h-2zM500 271h1v1h-1zM501 270h1v1h-1zM502 269h2v1h-2zM504 268h1v1h-1zM505 267h1v1h-1zM506 266h2v1h-2zM508 265h1v1h-1zM509 264h2v1h-2zM511 263h2v1h-2zM513 262h2v1h-2zM515 261h2v1h-2zM517 260h1v1h-1zM518 259h1v1h-1zM519 258h1v1h-1zM520 257h1v1h-1zM521 256h1v1h-1zM522 255h1v1h-1zM523 254h1v1h-1zM524 253h1v1h-1zM525 252h1v1h-1zM526 251h2v1h-2zM528 250h2v1h-2zM530 249h1v1h-1zM531 248h2v1h-2zM533 247h2v1h-2zM535 246h3v1h-3zM538 245h2v1h-2zM540 244h6v1h-6zM546 243h6v1h-6zM552 242h4v1h-4zM556 241h3v1h-3zM559 240h3v1h-3zM562 239h2v1h-2zM564 238h6v1h-6zM570 237h8v1h-8zM578 236h4v1h-4zM582 237h2v1h-2zM584 238h1v1h-1zM585 239h1v1h-1zM586 240h2v1h-2zM588 241h1v1h-1zM589 242h1v1h-1zM590 243h1v1h-1zM591 244h1v1h-1zM592 245h1v1h-1zM593 246h1v1h-1zM594 247h1v1h-1zM595 248h1v1h-1zM596 249h1v1h-1zM597 250h1v1h-1zM598 251h2v1h-2zM600 252h1v1h-1zM601 253h1v1h-1zM602 254h2v1h-2zM604 255h1v1h-1zM605 256h1v1h-1zM606 257h1v2h-1zM607 259h1v1h-1zM608 260h1v1h-1zM609 261h1v2h-1zM610 263h1v1h-1zM611 264h1v1h-1zM612 265h1v2h-1zM613 267h1v1h-1zM614 268h1v2h-1zM615 270h1v1h-1zM616 271h1v1h-1zM617 272h1v2h-1zM618 274h1v1h-1zM619 275h1v1h-1zM620 276h1v2h-1zM621 278h1v1h-1zM622 279h1v2h-1zM623 281h1v1h-1zM624 282h1v2h-1zM625 284h1v1h-1zM626 285h1v2h-1zM627 287h1v1h-1zM628 288h1v2h-1zM629 290h1v1h-1zM630 291h1v1h-1zM631 292h1v1h-1zM632 293h1v1h-1zM633 294h1v2h-1zM634 296h1v1h-1zM635 297h1v1h-1zM636 298h1v1h-1zM637 299h1v1h-1zM638 300h1v1h-1zM639 301h1v1h-1zM640 302h1v1h-1zM641 303h1v1h-1zM642 304h1v1h-1zM643 305h1v1h-1zM644 306h1v1h-1zM645 307h1v1h-1zM646 308h2v1h-2zM648 309h1v1h-1zM649 310h1v1h-1zM650 311h2v1h-2zM652 312h1v1h-1zM653 313h1v1h-1zM654 314h2v1h-2zM656 315h1v1h-1zM657 316h1v1h-1zM658 317h2v1h-2zM660 318h1v1h-1zM661 319h3v1h-3zM664 320h4v1h-4zM668 321h3v1h-3zM671 322h3v1h-3zM674 323h2v1h-2zM676 324h4v1h-4zM680 325h4v1h-4zM684 326h10v1h-10zM694 325h2v1h-2zM696 324h1v1h-1zM697 323h1v1h-1zM698 322h2v1h-2zM700 321h1v1h-1zM701 320h1v1h-1zM702 319h2v1h-2zM704 318h1v1h-1zM705 317h1v1h-1zM706 316h2v1h-2zM708 315h1v1h-1zM709 314h2v1h-2zM711 313h2v1h-2zM713 312h2v1h-2zM715 311h2v1h-2zM717 310h2v1h-2zM719 309h2v1h-2zM721 308h2v1h-2zM723 307h2v1h-2zM725 306h1v1h-1zM726 305h2v1h-2zM728 304h1v1h-1zM729 303h1v1h-1zM730 302h2v1h-2zM732 301h1v1h-1zM733 300h1v1h-1zM734 299h2v1h-2zM736 298h1v1h-1zM737 297h1v1h-1zM738 296h2v1h-2zM740 295h1v1h-1zM741 294h1v1h-1zM742 293h1v1h-1zM743 292h1v1h-1zM744 291h2v1h-2zM746 290h1v1h-1zM747 289h1v1h-1zM748 288h1v1h-1zM749 287h1v1h-1zM750 286h2v1h-2zM752 285h2v1h-2zM754 284h1v1h-1zM755 283h2v1h-2zM757 282h2v1h-2zM759 281h2v1h-2zM761 280h2v1h-2zM763 279h2v1h-2zM765 278h1v1h-1zM766 277h1v1h-1zM767 276h1v1h-1zM768 275h1v1h-1zM769 273h1v2h-1zM770 272h1v1h-1zM771 271h1v1h-1zM772 270h1v1h-1zM773 269h1v1h-1zM774 268h1v1h-1zM775 267h1v1h-1zM776 266h1v1h-1zM777 264h1v2h-1zM778 263h1v1h-1zM779 262h1v1h-1zM780 261h1v1h-1zM781 260h1v1h-1zM782 258h1v2h-1zM783 257h1v1h-1zM784 255h1v2h-1zM785 254h1v1h-1zM786 252h1v2h-1zM787 251h1v1h-1zM788 249h1v2h-1zM789 248h1v1h-1zM790 247h1v1h-1zM791 245h1v2h-1zM792 244h1v1h-1zM793 243h1v1h-1zM794 242h1v1h-1zM795 240h1v2h-1zM796 239h1v1h-1zM797 238h1v1h-1zM798 237h1v1h-1zM799 236h1v1h-1zM800 235h1v1h-1zM801 233h1v2h-1zM802 232h1v1h-1zM803 231h1v1h-1zM804 230h1v1h-1zM805 229h1v1h-1zM806 227h1v2h-1zM807 226h1v1h-1zM808 224h1v2h-1zM809 223h1v1h-1zM810 221h1v2h-1zM811 220h1v1h-1zM812 218h1v2h-1zM813 217h1v1h-1zM814 215h1v2h-1zM815 213h1v2h-1zM816 212h1v1h-1zM817 210h1v2h-1zM818 209h1v1h-1zM819 207h1v2h-1zM820 205h1v2h-1zM821 204h1v1h-1zM822 202h1v2h-1zM823 200h1v2h-1zM824 198h1v2h-1zM825 197h1v1h-1zM826 195h1v2h-1zM827 193h1v2h-1zM828 191h1v2h-1zM829 190h1v1h-1zM830 188h1v2h-1zM831 186h1v2h-1zM832 184h1v2h-1zM833 183h1v1h-1zM834 181h1v2h-1zM835 179h1v2h-1zM836 177h1v2h-1zM837 176h1v1h-1zM838 174h1v2h-1zM839 172h1v2h-1zM840 171h1v1h-1zM841 169h1v2h-1zM842 168h1v1h-1zM843 166h1v2h-1zM844 164h1v2h-1zM845 163h1v1h-1zM846 161h1v2h-1zM847 159h1v2h-1zM848 158h1v1h-1zM849 156h1v2h-1zM850 155h1v1h-1zM851 153h1v2h-1zM852 151h1v2h-1zM853 150h1v1h-1zM854 148h1v2h-1zM855 147h1v1h-1zM856 146h1v1h-1zM857 144h1v2h-1zM858 143h1v1h-1zM859 142h1v1h-1zM860 140h1v2h-1zM861 139h1v1h-1zM862 137h1v2h-1zM863 136h1v1h-1zM864 134h1v2h-1zM865 133h1v1h-1zM866 131h1v2h-1zM867 130h1v1h-1zM868 128h1v2h-1zM869 127h1v1h-1zM870 126h1v1h-1zM871 124h1v2h-1zM872 123h1v1h-1zM873 122h1v1h-1zM874 121h1v1h-1zM875 119h1v2h-1zM876 118h1v1h-1zM877 117h1v1h-1zM878 116h2v1h-2zM880 115h1v1h-1zM881 114h1v1h-1zM882 113h2v1h-2zM884 112h1v1h-1zM885 111h2v1h-2zM887 110h2v1h-2zM889 109h2v1h-2zM891 108h2v1h-2zM893 107h5v1h-5zM898 106h4v1h-4zM902 105h2v1h-2zM904 104h2v1h-2zM906 103h1v1h-1zM907 102h2v1h-2zM909 101h2v1h-2zM911 100h3v1h-3zM914 99h2v1h-2zM916 98h3v1h-3zM919 99h2v1h-2zM921 100h2v1h-2zM923 101h2v1h-2zM925 102h1v1h-1zM926 103h2v1h-2zM928 104h2v1h-2zM930 105h1v1h-1zM931 106h2v1h-2zM933 107h1v1h-1zM934 108h1v1h-1zM935 109h1v1h-1zM936 110h2v1h-2zM938 111h1v1h-1zM939 112h1v1h-1zM940 113h1v1h-1zM941 114h1v1h-1zM942 115h1v1h-1zM943 116h1v1h-1zM944 117h1v1h-1zM945 118h1v2h-1zM946 120h1v1h-1zM947 121h1v1h-1zM948 122h1v1h-1zM949 123h1v1h-1zM950 124h1v1h-1zM951 125h1v1h-1zM952 126h2v1h-2zM954 127h1v1h-1zM955 128h1v1h-1zM956 129h1v1h-1zM957 130h1v1h-1zM958 131h1v1h-1zM959 132h1v1h-1zM960 133h1v1h-1zM961 134h1v2h-1zM962 136h1v1h-1zM963 137h1v1h-1zM964 138h1v1h-1zM965 139h1v1h-1zM966 140h2v1h-2zM968 141h2v1h-2zM970 142h1v1h-1zM971 143h2v1h-2zM973 144h1v1h-1zM974 145h2v1h-2zM976 146h2v1h-2zM978 147h1v1h-1zM979 148h2v1h-2zM981 149h1v1h-1zM982 150h2v1h-2zM984 151h1v1h-1zM985 152h1v1h-1zM986 153h2v1h-2zM988 154h1v1h-1zM989 155h2v1h-2zM991 156h2v1h-2zM993 157h2v1h-2zM995 158h2v1h-2zM997 159h1v1h-1zM998 160h2v1h-2zM1000 161h2v1h-2zM1002 162h1v1h-1zM1003 163h2v1h-2zM1005 164h1v1h-1zM1006 165h2v1h-2zM1008 166h1v1h-1zM1009 167h1v1h-1zM1010 168h2v1h-2zM1012 169h1v1h-1zM1013 170h1v1h-1zM1014 171h1v2h-1zM1015 173h1v1h-1zM1016 174h1v1h-1zM1017 175h1v2h-1zM1018 177h1v1h-1zM1019 178h1v1h-1zM1020 179h1v2h-1zM1021 181h1v1h-1zM1022 182h1v2h-1zM1023 184h1v1h-1zM1024 185h1v1h-1zM1025 186h1v2h-1zM1026 188h1v1h-1zM1027 189h1v1h-1zM1028 190h1v2h-1zM1029 192h1v1h-1zM1030 193h1v1h-1zM1031 194h1v1h-1zM1032 195h1v1h-1zM1033 196h1v2h-1zM1034 198h1v1h-1zM1035 199h1v1h-1zM1036 200h1v1h-1zM1037 201h1v1h-1zM1038 202h1v1h-1zM1039 203h1v1h-1zM1040 204h2v1h-2zM1042 205h1v1h-1zM1043 206h1v1h-1zM1044 207h1v1h-1zM1045 208h2v1h-2zM1047 209h3v1h-3zM1050 210h2v1h-2zM1052 211h6v1h-6zM1058 210h8v1h-8zM1066 211h4v1h-4zM1070 212h2v1h-2zM1072 213h2v1h-2zM1074 214h1v1h-1zM1075 215h2v1h-2zM1077 216h1v1h-1zM1078 217h1v1h-1zM1079 218h1v1h-1zM1080 219h1v1h-1zM1081 220h1v2h-1zM1082 222h1v1h-1zM1083 223h1v1h-1zM1084 224h1v1h-1zM1085 225h1v1h-1zM1086 226h1v2h-1zM1087 228h1v2h-1zM1088 230h1v2h-1zM1089 232h1v1h-1zM1090 233h1v2h-1zM1091 235h1v2h-1zM1092 237h1v2h-1zM1093 239h1v1h-1zM1094 240h1v1h-1zM1095 241h1v1h-1zM1096 242h1v1h-1zM1097 243h1v2h-1zM1098 245h1v1h-1zM1099 246h1v1h-1zM1100 247h1v1h-1zM1101 248h1v1h-1zM1102 249h1v2h-1zM1103 251h1v1h-1zM1104 252h1v1h-1zM1105 253h1v2h-1zM1106 255h1v1h-1zM1107 256h1v1h-1zM1108 257h1v2h-1zM1109 259h1v1h-1zM1110 260h1v1h-1zM1111 261h1v1h-1zM1112 262h1v2h-1zM1113 264h1v1h-1zM1114 265h1v1h-1zM1115 266h1v1h-1zM1116 267h1v1h-1z" fill="#ff0000"/>
<path d="M5 369h4v1h-4zM9 368h4v1h-4zM13 369h1v1h-1zM14 370h1v1h-1zM15 371h1v1h-1zM16 372h2v1h-2zM18 373h1v1h-1zM19 374h1v1h-1zM20 375h1v1h-1zM21 376h3v1h-3zM24 377h4v1h-4zM28 378h3v1h-3zM30 379h1v1h-1zM31 380h1v2h-1zM32 382h1v2h-1zM33 384h1v3h-1zM34 387h1v2h-1zM35 389h1v2h-1zM36 391h1v2h-1zM37 393h1v3h-1zM38 396h1v2h-1zM39 398h1v2h-1zM40 400h1v2h-1zM41 402h1v2h-1zM42 404h1v2h-1zM43 406h1v2h-1zM44 408h1v2h-1zM45 410h1v2h-1zM46 412h2v1h-2zM48 413h2v1h-2zM50 414h1v1h-1zM51 415h2v1h-2zM53 416h2v1h-2zM55 415h2v1h-2zM57 414h2v1h-2zM59 413h2v1h-2zM61 412h1v1h-1zM62 413h1v1h-1zM63 414h1v2h-1zM64 416h1v1h-1zM65 417h1v1h-1zM66 418h1v1h-1zM67 419h1v2h-1zM68 421h1v1h-1zM69 422h5v1h-5zM74 423h12v1h-12zM86 424h2v1h-2zM88 425h1v1h-1zM89 426h1v1h-1zM90 427h2v1h-2zM92 428h1v1h-1zM93 429h9v1h-9zM102 430h1v2h-1zM103 432h1v1h-1zM104 433h1v2h-1zM105 435h1v1h-1zM106 436h1v2h-1zM107 438h1v1h-1zM108 439h1v2h-1zM109 441h1v1h-1zM110 442h1v1h-1zM111 443h1v1h-1zM112 444h1v1h-1zM113 445h1v1h-1zM114 446h1v1h-1zM115 447h1v1h-1zM116 448h1v1h-1zM117 449h2v1h-2zM119 450h3v1h-3zM122 451h2v1h-2zM124 452h3v1h-3zM127 453h3v1h-3zM130 454h2v1h-2zM132 455h2v1h-2zM134 456h1v1h-1zM135 457h1v1h-1zM136 458h2v1h-2zM138 459h1v1h-1zM139 460h1v1h-1zM140 461h1v1h-1zM141 462h1v1h-1zM142 460h1v2h-1zM143 459h1v1h-1zM144 457h1v2h-1zM145 456h1v1h-1zM146 454h1v2h-1zM147 453h1v1h-1zM148 451h1v2h-1zM149 450h1v1h-1zM150 448h1v2h-1zM151 446h1v2h-1zM152 444h1v2h-1zM153 442h1v2h-1zM154 440h1v2h-1zM155 438h1v2h-1zM156 436h1v2h-1zM157 434h1v2h-1zM158 431h1v3h-1zM159 428h1v3h-1zM160 425h1v3h-1zM161 421h1v4h-1zM162 418h1v3h-1zM163 415h1v3h-1zM164 412h1v3h-1zM165 409h1v3h-1zM166 407h1v2h-1zM167 405h1v2h-1zM168 403h1v2h-1zM169 401h1v2h-1zM170 399h1v2h-1zM171 397h1v2h-1zM172 395h1v2h-1zM173 393h1v2h-1zM174 391h1v2h-1zM175 389h1v2h-1zM176 387h1v2h-1zM177 385h1v2h-1zM178 383h1v2h-1zM179 381h1v2h-1zM180 379h1v2h-1zM181 376h1v3h-1zM182 374h1v2h-1zM183 371h1v3h-1zM184 369h1v2h-1zM185 366h1v3h-1zM186 364h1v2h-1zM187 361h1v3h-1zM188 359h1v2h-1zM189 356h1v3h-1zM190 354h1v2h-1zM191 352h1v2h-1zM192 350h1v2h-1zM193 347h1v3h-1zM194 345h1v2h-1zM195 343h1v2h-1zM196 341h1v2h-1zM197 339h1v2h-1zM198 337h1v2h-1zM199 336h1v1h-1zM200 334h1v2h-1zM201 333h1v1h-1zM202 331h1v2h-1zM203 330h1v1h-1zM204 328h1v2h-1zM205 327h1v1h-1zM206 326h2v1h-2zM208 325h2v1h-2zM210 324h1v1h-1zM211 323h2v1h-2zM213 322h9v1h-9zM222 323h2v1h-2zM224 324h2v1h-2zM226 325h1v1h-1zM227 326h2v1h-2zM229 327h2v1h-2zM231 328h2v1h-2zM233 329h2v1h-2zM235 330h2v1h-2zM237 331h1v1h-1zM238 332h2v1h-2zM240 333h2v1h-2zM242 334h1v1h-1zM243 335h2v1h-2zM245 336h2v1h-2zM247 337h2v1h-2zM249 338h2v1h-2zM251 339h2v1h-2zM253 340h3v1h-3zM256 341h4v1h-4zM260 342h10v1h-10zM270 341h2v1h-2zM272 340h2v1h-2zM274 339h1v1h-1zM275 338h2v1h-2zM277 337h1v1h-1zM278 336h1v1h-1zM279 335h1v1h-1zM280 334h2v1h-2zM282 333h1v1h-1zM283 332h1v1h-1zM284 331h1v1h-1zM285 330h1v1h-1zM286 329h1v1h-1zM287 327h1v2h-1zM288 326h1v1h-1zM289 325h1v1h-1zM290 324h1v1h-1zM291 322h1v2h-1zM292 321h1v1h-1zM293 320h1v1h-1zM294 318h1v2h-1zM295 316h1v2h-1zM296 315h1v1h-1zM297 313h1v2h-1zM298 312h1v1h-1zM299 310h1v2h-1zM300 308h1v2h-1zM301 307h1v1h-1zM302 305h1v2h-1zM303 304h1v1h-1zM304 303h1v1h-1zM305 301h1v2h-1zM306 300h1v1h-1zM307 299h1v1h-1zM308 297h1v2h-1zM309 296h1v1h-1zM310 295h1v1h-1zM311 294h1v1h-1zM312 293h2v1h-2zM314 292h1v1h-1zM315 291h1v1h-1zM316 290h1v1h-1zM317 289h1v1h-1zM318 288h2v1h-2zM320 287h2v1h-2zM322 286h1v1h-1zM323 285h2v1h-2zM325 284h1v1h-1zM326 282h1v2h-1zM327 280h1v2h-1zM328 278h1v2h-1zM329 277h1v1h-1zM330 275h1v2h-1zM331 273h1v2h-1zM332 271h1v2h-1zM333 270h1v1h-1zM334 268h1v2h-1zM335 267h1v1h-1zM336 266h1v1h-1zM337 264h1v2h-1zM338 263h1v1h-1zM339 262h1v1h-1zM340 260h1v2h-1zM341 259h1v1h-1zM342 257h1v2h-1zM343 256h1v1h-1zM344 255h1v1h-1zM345 253h1v2h-1zM346 252h1v1h-1zM347 251h1v1h-1zM348 249h1v2h-1zM349 248h2v1h-2zM351 247h2v1h-2zM353 246h2v1h-2zM355 245h2v1h-2zM357 244h2v1h-2zM359 243h3v1h-3zM362 242h2v1h-2zM364 241h2v1h-2zM366 240h1v1h-1zM367 239h1v1h-1zM368 238h2v1h-2zM370 237h1v1h-1zM371 236h1v1h-1zM372 235h1v1h-1zM373 234h1v1h-1zM374 233h2v1h-2zM376 232h1v1h-1zM377 231h1v1h-1zM378 230h2v1h-2zM380 229h1v1h-1zM381 228h2v1h-2zM383 229h2v1h-2zM385 230h2v1h-2zM387 231h2v1h-2zM389 232h1v1h-1zM390 233h1v1h-1zM391 234h1v1h-1zM392 235h1v1h-1zM393 236h1v2h-1zM394 238h1v1h-1zM395 239h1v1h-1zM396 240h1v1h-1zM397 241h1v1h-1zM398 242h1v1h-1zM399 243h1v1h-1zM400 244h1v1h-1zM401 245h1v2h-1zM402 247h1v1h-1zM403 248h1v1h-1zM404 249h1v1h-1zM405 250h1v1h-1zM406 251h1v1h-1zM407 252h1v1h-1zM408 253h2v1h-2zM410 254h1v1h-1zM411 255h1v1h-1zM412 256h1v1h-1zM413 257h1v1h-1zM414 258h1v1h-1zM415 259h1v1h-1zM416 260h2v1h-2zM418 261h1v1h-1zM419 262h1v1h-1zM420 263h1v1h-1zM421 264h1v1h-1zM422 265h1v1h-1zM423 266h1v1h-1zM424 267h2v1h-2zM426 268h1v1h-1zM427 269h1v1h-1zM428 270h1v1h-1zM429 271h1v1h-1zM430 272h2v1h-2zM432 273h1v1h-1zM433 274h1v1h-1zM434 275h2v1h-2zM436 276h1v1h-1zM437 277h5v1h-5zM442 278h5v1h-5zM447 279h2v1h-2zM449 280h2v1h-2zM451 281h2v1h-2zM453 282h3v1h-3zM456 283h4v1h-4zM460 284h6v1h-6zM466 285h6v1h-6zM472 286h4v1h-4zM476 287h2v1h-2zM478 286h2v1h-2zM480 285h1v1h-1zM481 284h1v1h-1zM482 283h2v1h-2zM484 282h1v1h-1zM485 281h1v1h-1zM486 280h2v1h-2zM488 279h1v1h-1zM489 278h1v1h-1zM490 277h2v1h-2zM492 276h1v1h-1zM493 275h1v1h-1zM494 273h1v2h-1zM495 271h1v2h-1zM496 269h1v2h-1zM497 268h1v1h-1zM498 266h1v2h-1zM499 264h1v2h-1zM500 262h1v2h-1zM501 261h1v1h-1zM502 259h1v2h-1zM503 257h1v2h-1zM504 255h1v2h-1zM505 254h1v1h-1zM506 252h1v2h-1zM507 250h1v2h-1zM508 248h1v2h-1zM509 247h1v1h-1zM510 245h1v2h-1zM511 244h1v1h-1zM512 242h1v2h-1zM513 241h1v1h-1zM514 239h1v2h-1zM515 238h1v1h-1zM516 236h1v2h-1zM517 235h1v1h-1zM518 233h1v2h-1zM519 231h1v2h-1zM520 229h1v2h-1zM521 227h1v2h-1zM522 225h1v2h-1zM523 223h1v2h-1zM524 221h1v2h-1zM525 220h1v1h-1zM526 218h1v2h-1zM527 217h1v1h-1zM528 216h1v1h-1zM529 214h1v2h-1zM530 213h1v1h-1zM531 212h1v1h-1zM532 210h1v2h-1zM533 209h13v1h-13zM546 210h4v1h-4zM550 211h1v2h-1zM551 213h1v1h-1zM552 214h1v1h-1zM553 215h1v2h-1zM554 217h1v1h-1zM555 218h1v1h-1zM556 219h1v2h-1zM557 221h1v1h-1zM558 222h1v1h-1zM559 223h1v1h-1zM560 224h1v1h-1zM561 225h1v2h-1zM562 227h1v1h-1zM563 228h1v1h-1zM564 229h1v1h-1zM565 230h1v1h-1zM566 231h1v1h-1zM567 232h1v1h-1zM568 233h2v1h-2zM570 234h1v1h-1zM571 235h1v1h-1zM572 236h1v1h-1zM573 237h1v2h-1zM574 239h1v2h-1zM575 241h1v2h-1zM576 243h1v2h-1zM577 245h1v2h-1zM578 247h1v2h-1zM579 249h1v2h-1zM580 251h1v2h-1zM581 253h1v3h-1zM582 256h1v3h-1zM583 259h1v2h-1zM584 261h1v3h-1zM585 264h1v3h-1zM586 267h1v3h-1zM587 270h1v2h-1zM588 272h1v3h-1zM589 275h1v3h-1zM590 278h1v2h-1zM591 280h1v2h-1zM592 282h1v2h-1zM593 284h1v2h-1zM594 286h1v2h-1zM595 288h1v2h-1zM596 290h1v2h-1zM597 292h1v1h-1zM598 293h1v2h-1zM599 295h1v2h-1zM600 297h1v2h-1zM601 299h1v1h-1zM602 300h1v2h-1zM603 302h1v2h-1zM604 304h1v2h-1zM605 306h1v1h-1zM606 307h1v2h-1zM607 309h1v1h-1zM608 310h1v1h-1zM609 311h1v2h-1zM610 313h1v1h-1zM611 314h1v1h-1zM612 315h1v2h-1zM613 317h1v1h-1zM614 318h1v2h-1zM615 320h1v1h-1zM616 321h1v2h-1zM617 323h1v1h-1zM618 324h1v2h-1zM619 326h1v1h-1zM620 327h1v2h-1zM621 329h1v1h-1zM622 330h1v1h-1zM623 331h1v2h-1zM624 333h1v1h-1zM625 334h1v1h-1zM626 335h1v1h-1zM627 336h1v2h-1zM628 338h1v1h-1zM629 339h1v1h-1zM630 340h2v1h-2zM632 341h2v1h-2zM634 342h1v1h-1zM635 343h2v1h-2zM637 344h2v1h-2zM639 343h2v1h-2zM641 342h2v1h-2zM643 341h2v1h-2zM645 340h1v1h-1zM646 339h2v1h-2zM648 338h1v1h-1zM649 337h1v1h-1zM650 336h2v1h-2zM652 335h1v1h-1zM653 334h5v1h-5zM658 333h4v1h-4zM662 332h1v1h-1zM663 331h1v1h-1zM664 330h1v1h-1zM665 329h1v1h-1zM666 328h1v1h-1zM667 327h1v1h-1zM668 326h1v1h-1zM669 325h1v1h-1zM670 324h1v1h-1zM671 323h1v1h-1zM672 322h1v1h-1zM673 321h1v1h-1zM674 320h1v1h-1zM675 319h1v1h-1zM676 318h1v1h-1zM677 317h2v1h-2zM679 316h2v1h-2zM681 315h2v1h-2zM683 314h2v1h-2zM685 313h1v1h-1zM686 312h1v1h-1zM687 311h1v1h-1zM688 310h2v1h-2zM690 309h1v1h-1zM691 308h1v1h-1zM692 307h1v1h-1zM693 306h1v1h-1zM694 305h1v1h-1zM695 304h1v1h-1zM696 303h2v1h-2zM698 302h1v1h-1zM699 301h1v1h-1zM700 300h1v1h-1zM701 299h1v1h-1zM702 298h2v1h-2zM704 297h2v1h-2zM706 296h1v1h-1zM707 295h2v1h-2zM709 294h1v1h-1zM710 293h2v1h-2zM712 292h1v1h-1zM713 291h1v1h-1zM714 290h2v1h-2zM716 289h1v1h-1zM717 288h9v1h-9zM726 287h2v1h-2zM728 286h1v1h-1zM729 285h1v1h-1zM730 284h2v1h-2zM732 283h1v1h-1zM733 282h1v1h-1zM734 281h1v1h-1zM735 280h1v1h-1zM736 279h2v1h-2zM738 278h1v1h-1zM739 277h1v1h-1zM740 276h1v1h-1zM741 275h2v1h-2zM743 274h2v1h-2zM745 273h2v1h-2zM747 272h2v1h-2zM749 271h2v1h-2zM751 270h2v1h-2zM753 269h2v1h-2zM755 268h2v1h-2zM757 267h2v1h-2zM759 266h2v1h-2zM761 265h2v1h-2zM763 264h2v1h-2zM765 263h1v1h-1zM766 261h1v2h-1zM767 259h1v2h-1zM768 258h1v1h-1zM769 256h1v2h-1zM770 255h1v1h-1zM771 253h1v2h-1zM772 251h1v2h-1zM773 249h1v2h-1zM774 247h1v2h-1zM775 245h1v2h-1zM776 243h1v2h-1zM777 241h1v2h-1zM778 239h1v2h-1zM779 237h1v2h-1zM780 235h1v2h-1zM781 232h1v3h-1zM782 230h1v2h-1zM783 228h1v2h-1zM784 226h1v2h-1zM785 224h1v2h-1zM786 222h1v2h-1zM787 220h1v2h-1zM788 218h1v2h-1zM789 216h1v2h-1zM790 214h1v2h-1zM791 212h1v2h-1zM792 210h1v2h-1zM793 208h1v2h-1zM794 206h1v2h-1zM795 204h1v2h-1zM796 202h1v2h-1zM797 200h1v2h-1zM798 198h1v2h-1zM799 196h1v2h-1zM800 194h1v2h-1zM801 192h1v2h-1zM802 190h1v2h-1zM803 188h1v2h-1zM804 186h1v2h-1zM805 184h1v2h-1zM806 181h1v3h-1zM807 178h1v3h-1zM808 175h1v3h-1zM809 173h1v2h-1zM810 170h1v3h-1zM811 167h1v3h-1zM812 164h1v3h-1zM813 161h1v3h-1zM814 158h1v3h-1zM815 156h1v2h-1zM816 153h1v3h-1zM817 150h1v3h-1zM818 147h1v3h-1zM819 145h1v2h-1zM820 142h1v3h-1zM821 139h1v3h-1zM822 137h1v2h-1zM823 135h1v2h-1zM824 133h1v2h-1zM825 130h1v3h-1zM826 128h1v2h-1zM827 126h1v2h-1zM828 124h1v2h-1zM829 122h1v2h-1zM830 120h1v2h-1zM831 118h1v2h-1zM832 117h1v1h-1zM833 115h1v2h-1zM834 114h1v1h-1zM835 112h1v2h-1zM836 110h1v2h-1zM837 109h1v1h-1zM838 108h2v1h-2zM840 107h2v1h-2zM842 106h1v1h-1zM843 105h2v1h-2zM845 104h1v1h-1zM846 103h1v1h-1zM847 102h1v1h-1zM848 101h2v1h-2zM850 100h1v1h-1zM851 99h1v1h-1zM852 98h1v1h-1zM853 97h1v1h-1zM854 96h2v1h-2zM856 95h2v1h-2zM858 94h1v1h-1zM859 93h2v1h-2zM861 92h2v1h-2zM863 93h3v1h-3zM866 94h2v1h-2zM868 95h4v1h-4zM872 96h4v1h-4zM876 97h3v1h-3zM879 98h2v1h-2zM881 99h2v1h-2zM883 100h2v1h-2zM885 101h2v1h-2zM887 102h3v1h-3zM890 103h2v1h-2zM892 104h3v1h-3zM895 105h3v1h-3zM898 106h2v1h-2zM900 107h6v1h-6zM906 106h8v1h-8zM914 105h6v1h-6zM920 106h4v1h-4zM924 107h2v1h-2zM926 108h1v1h-1zM927 109h1v2h-1zM928 111h1v1h-1zM929 112h1v1h-1zM930 113h1v1h-1zM931 114h1v2h-1zM932 116h1v1h-1zM933 117h1v1h-1zM934 118h1v1h-1zM935 119h1v2h-1zM936 121h1v1h-1zM937 122h1v1h-1zM938 123h1v1h-1zM939 124h1v2h-1zM940 126h1v1h-1zM941 127h1v1h-1zM942 128h1v2h-1zM943 130h1v2h-1zM944 132h1v1h-1zM945 133h1v2h-1zM946 135h1v1h-1zM947 136h1v2h-1zM948 138h1v2h-1zM949 140h1v1h-1zM950 141h1v2h-1zM951 143h1v1h-1zM952 144h1v2h-1zM953 146h1v1h-1zM954 147h1v2h-1zM955 149h1v1h-1zM956 150h1v2h-1zM957 152h1v2h-1zM958 154h1v2h-1zM959 156h1v2h-1zM960 158h1v2h-1zM961 160h1v3h-1zM962 163h1v2h-1zM963 165h1v2h-1zM964 167h1v2h-1zM965 169h1v2h-1zM966 171h1v2h-1zM967 173h1v2h-1zM968 175h1v2h-1zM969 177h1v1h-1zM970 178h1v2h-1zM971 180h1v2h-1zM972 182h1v2h-1zM973 184h1v1h-1zM974 185h2v1h-2zM976 186h2v1h-2zM978 187h1v1h-1zM979 188h2v1h-2zM981 189h3v1h-3zM984 190h4v1h-4zM988 191h3v1h-3zM991 192h2v1h-2zM993 193h2v1h-2zM995 194h2v1h-2zM997 195h1v1h-1zM998 194h1v1h-1zM999 193h1v1h-1zM1000 192h1v1h-1zM1001 190h1v2h-1zM1002 189h1v1h-1zM1003 188h1v1h-1zM1004 187h1v1h-1zM1005 186h9v1h-9zM1014 187h1v1h-1zM1015 188h1v1h-1zM1016 189h1v1h-1zM1017 190h1v1h-1zM1018 191h1v1h-1zM1019 192h1v1h-1zM1020 193h1v1h-1zM1021 194h1v1h-1zM1022 195h1v2h-1zM1023 197h1v1h-1zM1024 198h1v1h-1zM1025 199h1v2h-1zM1026 201h1v1h-1zM1027 202h1v1h-1zM1028 203h1v2h-1zM1029 205h1v1h-1zM1030 206h1v2h-1zM1031 208h1v1h-1zM1032 209h1v1h-1zM1033 210h1v2h-1zM1034 212h1v1h-1zM1035 213h1v1h-1zM1036 214h1v2h-1zM1037 216h1v1h-1zM1038 217h1v2h-1zM1039 219h1v1h-1zM1040 220h1v1h-1zM1041 221h1v2h-1zM1042 223h1v1h-1zM1043 224h1v1h-1zM1044 225h1v2h-1zM1045 227h3v1h-3zM1048 228h4v1h-4zM1052 229h3v1h-3zM1055 230h3v1h-3zM1058 231h2v1h-2zM1060 232h3v1h-3zM1063 233h3v1h-3zM1066 234h2v1h-2zM1068 235h3v1h-3zM1071 236h3v1h-3zM1074 237h2v1h-2zM1076 238h3v1h-3zM1079 239h3v1h-3zM1082 240h2v1h-2zM1084 241h2v1h-2zM1086 242h1v2h-1zM1087 244h1v2h-1zM1088 246h1v1h-1zM1089 247h1v2h-1zM1090 249h1v1h-1zM1091 250h1v2h-1zM1092 252h1v2h-1zM1093 254h1v2h-1zM1094 256h1v2h-1zM1095 258h1v2h-1zM1096 260h1v2h-1zM1097 262h1v2h-1zM1098 264h1v2h-1zM1099 266h1v2h-1zM1100 268h1v2h-1zM1101 270h1v2h-1zM1102 272h1v2h-1zM1103 274h1v2h-1zM1104 276h1v2h-1zM1105 278h1v2h-1zM1106 280h1v2h-1zM1107 282h1v2h-1zM1108 284h1v2h-1zM1109 286h1v3h-1zM1110 289h1v2h-1zM1111 291h1v3h-1zM1112 294h1v2h-1zM1113 296h1v3h-1zM1114 299h1v2h-1zM1115 301h1v3h-1zM1116 304h1v2h-1zM1117 306h1v2h-1z" fill="#0000c8"/>
<rect x="902" y="267" width="316" height="4" fill="#f83636"/>
<rect x="900" y="318" width="316" height="5" fill="#99c800"/>
<rect x="1422" y="331" width="41" height="11" fill="#000"/>
<rect x="5" y="624" width="1" height="18" fill="#c0c0c0"/>
<rect x="13" y="624" width="1" height="14" fill="#c0c0c0"/>
<rect x="21" y="624" width="1" height="17" fill="#c0c0c0"/>
<rect x="29" y="624" width="1" height="20" fill="#c0c0c0"/>
<rect x="37" y="624" width="1" height="24" fill="#c0c0c0"/>
<rect x="45" y="624" width="1" height="28" fill="#c0c0c0"/>
<rect x="53" y="624" width="1" height="30" fill="#c0c0c0"/>
<rect x="61" y="624" width="1" height="24" fill="#c0c0c0"/>
<rect x="69" y="624" width="1" height="24" fill="#c0c0c0"/>
<rect x="77" y="624" width="1" height="24" fill="#c0c0c0"/>
<rect x="85" y="624" width="1" height="22" fill="#c0c0c0"/>
<rect x="93" y="624" width="1" height="26" fill="#c0c0c0"/>
<rect x="101" y="624" width="1" height="28" fill="#c0c0c0"/>
<rect x="109" y="624" width="1" height="34" fill="#c0c0c0"/>
<rect x="117" y="624" width="1" height="32" fill="#c0c0c0"/>
<rect x="125" y="624" width="1" height="28" fill="#c0c0c0"/>
<rect x="133" y="624" width="1" height="27" fill="#c0c0c0"/>
<rect x="141" y="624" width="1" height="26" fill="#c0c0c0"/>
<rect x="149" y="624" width="1" height="21" fill="#c0c0c0"/>
<rect x="157" y="624" width="1" height="14" fill="#c0c0c0"/>
<rect x="165" y="624" width="1" height="7" fill="#c0c0c0"/>
<rect x="173" y="624" width="1" height="1" fill="#c0c0c0"/>
<rect x="181" y="619" width="1" height="6" fill="#c0c0c0"/>
<rect x="189" y="614" width="1" height="11" fill="#c0c0c0"/>
<rect x="197" y="609" width="1" height="16" fill="#c0c0c0"/>
<rect x="205" y="608" width="1" height="17" fill="#c0c0c0"/>
<rect x="213" y="606" width="1" height="19" fill="#c0c0c0"/>
<rect x="221" y="606" width="1" height="19" fill="#c0c0c0"/>
<rect x="229" y="608" width="1" height="17" fill="#c0c0c0"/>
<rect x="237" y="609" width="1" height="16" fill="#c0c0c0"/>
<rect x="245" y="608" width="1" height="17" fill="#c0c0c0"/>
<rect x="253" y="608" width="1" height="17" fill="#c0c0c0"/>
<rect x="261" y="609" width="1" height="16" fill="#c0c0c0"/>
<rect x="269" y="608" width="1" height="17" fill="#c0c0c0"/>
<rect x="277" y="608" width="1" height="17" fill="#c0c0c0"/>
<rect x="285" y="606" width="1" height="19" fill="#c0c0c0"/>
<rect x="293" y="605" width="1" height="20" fill="#c0c0c0"/>
<rect x="301" y="601" width="1" height="24" fill="#c0c0c0"/>
<rect x="309" y="598" width="1" height="27" fill="#c0c0c0"/>
<rect x="317" y="598" width="1" height="27" fill="#c0c0c0"/>
<rect x="325" y="598" width="1" height="27" fill="#c0c0c0"/>
<rect x="333" y="596" width="1" height="29" fill="#c0c0c0"/>
<rect x="341" y="592" width="1" height="33" fill="#c0c0c0"/>
<rect x="349" y="589" width="1" height="36" fill="#c0c0c0"/>
<rect x="357" y="588" width="1" height="37" fill="#c0c0c0"/>
<rect x="365" y="588" width="1" height="37" fill="#c0c0c0"/>
<rect x="373" y="590" width="1" height="35" fill="#c0c0c0"/>
<rect x="381" y="591" width="1" height="34" fill="#c0c0c0"/>
<rect x="389" y="595" width="1" height="30" fill="#c0c0c0"/>
<rect x="397" y="599" width="1" height="26" fill="#c0c0c0"/>
<rect x="405" y="602" width="1" height="23" fill="#c0c0c0"/>
<rect x="413" y="605" width="1" height="20" fill="#c0c0c0"/>
<rect x="421" y="608" width="1" height="17" fill="#c0c0c0"/>
<rect x="429" y="611" width="1" height="14" fill="#c0c0c0"/>
<rect x="437" y="613" width="1" height="12" fill="#c0c0c0"/>
<rect x="445" y="614" width="1" height="11" fill="#c0c0c0"/>
<rect x="453" y="618" width="1" height="7" fill="#c0c0c0"/>
<rect x="461" y="619" width="1" height="6" fill="#c0c0c0"/>
<rect x="469" y="621" width="1" height="4" fill="#c0c0c0"/>
<rect x="477" y="622" width="1" height="3" fill="#c0c0c0"/>
<rect x="485" y="619" width="1" height="6" fill="#c0c0c0"/>
<rect x="493" y="617" width="1" height="8" fill="#c0c0c0"/>
<rect x="501" y="610" width="1" height="15" fill="#c0c0c0"/>
<rect x="509" y="607" width="1" height="18" fill="#c0c0c0"/>
<rect x="517" y="605" width="1" height="20" fill="#c0c0c0"/>
<rect x="525" y="602" width="1" height="23" fill="#c0c0c0"/>
<rect x="533" y="602" width="1" height="23" fill="#c0c0c0"/>
<rect x="541" y="605" width="1" height="20" fill="#c0c0c0"/>
<rect x="549" y="608" width="1" height="17" fill="#c0c0c0"/>
<rect x="557" y="611" width="1" height="14" fill="#c0c0c0"/>
<rect x="565" y="614" width="1" height="11" fill="#c0c0c0"/>
<rect x="573" y="617" width="1" height="8" fill="#c0c0c0"/>
<rect x="581" y="621" width="1" height="4" fill="#c0c0c0"/>
<rect x="589" y="624" width="1" height="4" fill="#c0c0c0"/>
<rect x="597" y="624" width="1" height="12" fill="#c0c0c0"/>
<rect x="605" y="624" width="1" height="14" fill="#c0c0c0"/>
<rect x="613" y="624" width="1" height="16" fill="#c0c0c0"/>
<rect x="621" y="624" width="1" height="20" fill="#c0c0c0"/>
<rect x="629" y="624" width="1" height="21" fill="#c0c0c0"/>
<rect x="637" y="624" width="1" height="21" fill="#c0c0c0"/>
<rect x="645" y="624" width="1" height="21" fill="#c0c0c0"/>
<rect x="653" y="624" width="1" height="20" fill="#c0c0c0"/>
<rect x="661" y="624" width="1" height="18" fill="#c0c0c0"/>
<rect x="669" y="624" width="1" height="14" fill="#c0c0c0"/>
<rect x="677" y="624" width="1" height="12" fill="#c0c0c0"/>
<rect x="685" y="624" width="1" height="10" fill="#c0c0c0"/>
<rect x="693" y="624" width="1" height="8" fill="#c0c0c0"/>
<rect x="701" y="624" width="1" height="5" fill="#c0c0c0"/>
<rect x="709" y="624" width="1" height="4" fill="#c0c0c0"/>
<rect x="717" y="624" width="1" height="3" fill="#c0c0c0"/>
<rect x="725" y="624" width="1" height="1" fill="#c0c0c0"/>
<rect x="733" y="623" width="1" height="2" fill="#c0c0c0"/>
<rect x="741" y="621" width="1" height="4" fill="#c0c0c0"/>
<rect x="749" y="619" width="1" height="6" fill="#c0c0c0"/>
<rect x="757" y="618" width="1" height="7" fill="#c0c0c0"/>
<rect x="765" y="616" width="1" height="9" fill="#c0c0c0"/>
<rect x="773" y="611" width="1" height="14" fill="#c0c0c0"/>
<rect x="781" y="606" width="1" height="19" fill="#c0c0c0"/>
<rect x="789" y="599" width="1" height="26" fill="#c0c0c0"/>
<rect x="797" y="594" width="1" height="31" fill="#c0c0c0"/>
<rect x="805" y="590" width="1" height="35" fill="#c0c0c0"/>
<rect x="813" y="583" width="1" height="42" fill="#c0c0c0"/>
<rect x="821" y="578" width="1" height="47" fill="#c0c0c0"/>
<rect x="829" y="576" width="1" height="49" fill="#c0c0c0"/>
<rect x="837" y="575" width="1" height="50" fill="#c0c0c0"/>
<rect x="845" y="574" width="1" height="51" fill="#c0c0c0"/>
<rect x="853" y="574" width="1" height="51" fill="#c0c0c0"/>
<rect x="861" y="575" width="1" height="50" fill="#c0c0c0"/>
<rect x="869" y="578" width="1" height="47" fill="#c0c0c0"/>
<rect x="877" y="579" width="1" height="46" fill="#c0c0c0"/>
<rect x="885" y="582" width="1" height="43" fill="#c0c0c0"/>
<rect x="893" y="585" width="1" height="40" fill="#c0c0c0"/>
<rect x="901" y="588" width="1" height="37" fill="#c0c0c0"/>
<rect x="909" y="588" width="1" height="37" fill="#c0c0c0"/>
<rect x="917" y="589" width="1" height="36" fill="#c0c0c0"/>
<rect x="925" y="593" width="1" height="32" fill="#c0c0c0"/>
<rect x="933" y="599" width="1" height="26" fill="#c0c0c0"/>
<rect x="941" y="606" width="1" height="19" fill="#c0c0c0"/>
<rect x="949" y="615" width="1" height="10" fill="#c0c0c0"/>
<rect x="957" y="620" width="1" height="5" fill="#c0c0c0"/>
<rect x="965" y="624" width="1" height="1" fill="#c0c0c0"/>
<rect x="973" y="624" width="1" height="1" fill="#c0c0c0"/>
<rect x="981" y="624" width="1" height="1" fill="#c0c0c0"/>
<rect x="989" y="624" width="1" height="1" fill="#c0c0c0"/>
<rect x="997" y="624" width="1" height="4" fill="#c0c0c0"/>
<rect x="1005" y="624" width="1" height="3" fill="#c0c0c0"/>
<rect x="1013" y="624" width="1" height="6" fill="#c0c0c0"/>
<rect x="1021" y="624" width="1" height="11" fill="#c0c0c0"/>
<rect x="1029" y="624" width="1" height="16" fill="#c0c0c0"/>
<rect x="1037" y="624" width="1" height="20" fill="#c0c0c0"/>
<rect x="1045" y="624" width="1" height="20" fill="#c0c0c0"/>
<rect x="1053" y="624" width="1" height="19" fill="#c0c0c0"/>
<rect x="1061" y="624" width="1" height="16" fill="#c0c0c0"/>
<rect x="1069" y="624" width="1" height="16" fill="#c0c0c0"/>
<rect x="1077" y="624" width="1" height="20" fill="#c0c0c0"/>
<rect x="1085" y="624" width="1" height="22" fill="#c0c0c0"/>
<rect x="1093" y="624" width="1" height="30" fill="#c0c0c0"/>
<rect x="1101" y="624" width="1" height="36" fill="#c0c0c0"/>
<rect x="1109" y="624" width="1" height="39" fill="#c0c0c0"/>
<rect x="1117" y="624" width="1" height="41" fill="#c0c0c0"/>
<path d="M5 637h3v1h-3zM11 637h3v1h-3zM17 637h1v1h-1zM18 638h2v1h-2zM23 638h3v1h-3zM29 639h3v1h-3zM35 640h1v1h-1zM36 641h2v1h-2zM41 642h3v1h-3zM47 643h3v1h-3zM53 644h3v1h-3zM59 645h1v1h-1zM60 646h2v1h-2zM65 646h1v1h-1zM66 647h2v1h-2zM71 647h3v1h-3zM77 648h3v1h-3zM83 648h3v1h-3zM89 648h1v1h-1zM90 649h2v1h-2zM95 649h3v1h-3zM101 650h3v1h-3zM107 651h1v1h-1zM108 652h2v1h-2zM113 652h3v1h-3zM119 652h3v1h-3zM125 652h3v1h-3zM131 652h3v1h-3zM137 652h3v1h-3zM143 652h3v1h-3zM149 652h3v1h-3zM155 651h1v1h-1zM156 650h2v1h-2zM161 649h3v1h-3zM167 647h3v1h-3zM173 645h2v1h-2zM175 644h1v1h-1zM179 642h2v1h-2zM181 641h1v1h-1zM185 639h1v1h-1zM186 638h1v1h-1zM187 637h1v1h-1zM191 635h1v1h-1zM192 634h1v1h-1zM193 633h1v1h-1zM197 630h2v1h-2zM199 629h1v1h-1zM203 627h2v1h-2zM205 626h1v1h-1zM209 624h1v1h-1zM210 623h1v1h-1zM211 622h1v1h-1zM215 620h2v1h-2zM217 619h1v1h-1zM221 617h2v1h-2zM223 616h1v1h-1zM227 614h2v1h-2zM229 613h1v1h-1zM233 612h1v1h-1zM234 611h2v1h-2zM239 610h3v1h-3zM245 609h3v1h-3zM251 608h3v1h-3zM257 608h3v1h-3zM263 608h3v1h-3zM269 608h3v1h-3zM275 608h3v1h-3zM281 608h3v1h-3zM287 608h3v1h-3zM293 607h3v1h-3zM299 607h3v1h-3zM305 606h3v1h-3zM311 605h3v1h-3zM317 604h3v1h-3zM323 603h3v1h-3zM329 603h1v1h-1zM330 602h2v1h-2zM335 602h1v1h-1zM336 601h2v1h-2zM341 600h3v1h-3zM347 599h1v1h-1zM348 598h2v1h-2zM353 597h3v1h-3zM359 596h1v1h-1zM360 595h2v1h-2zM365 594h3v1h-3zM371 593h3v1h-3zM377 593h1v1h-1zM378 592h2v1h-2zM383 592h3v1h-3zM389 591h3v1h-3zM395 592h3v1h-3zM401 592h3v1h-3zM407 592h1v1h-1zM408 593h2v1h-2zM413 594h3v1h-3zM419 595h1v1h-1zM420 596h2v1h-2zM425 597h3v1h-3zM431 599h3v1h-3zM437 601h3v1h-3zM443 602h1v1h-1zM444 603h2v1h-2zM449 604h1v1h-1zM450 605h2v1h-2zM455 607h3v1h-3zM461 609h3v1h-3zM467 610h1v1h-1zM468 611h2v1h-2zM473 612h1v1h-1zM474 613h2v1h-2zM479 614h3v1h-3zM485 615h3v1h-3zM491 616h3v1h-3zM497 616h3v1h-3zM503 616h3v1h-3zM509 615h3v1h-3zM515 614h3v1h-3zM521 613h3v1h-3zM527 612h3v1h-3zM533 611h3v1h-3zM539 610h1v1h-1zM540 609h2v1h-2zM545 608h3v1h-3zM551 607h3v1h-3zM557 607h3v1h-3zM563 606h3v1h-3zM569 606h1v1h-1zM570 607h2v1h-2zM575 607h3v1h-3zM581 608h2v1h-2zM583 609h1v1h-1zM587 610h1v1h-1zM588 611h2v1h-2zM593 613h2v1h-2zM595 614h1v1h-1zM599 616h2v1h-2zM601 617h1v1h-1zM605 619h2v1h-2zM607 620h1v1h-1zM611 622h2v1h-2zM613 623h1v1h-1zM617 625h1v1h-1zM618 626h1v1h-1zM619 627h1v1h-1zM623 629h3v1h-3zM629 631h2v1h-2zM631 632h1v1h-1zM635 634h2v1h-2zM637 635h1v1h-1zM641 637h2v1h-2zM643 638h1v1h-1zM647 639h3v1h-3zM653 640h3v1h-3zM659 641h3v1h-3zM665 642h3v1h-3zM671 643h3v1h-3zM677 643h3v1h-3zM683 642h3v1h-3zM689 642h1v1h-1zM690 641h2v1h-2zM695 641h1v1h-1zM696 640h2v1h-2zM701 639h3v1h-3zM707 638h1v1h-1zM708 637h2v1h-2zM713 637h1v1h-1zM714 636h2v1h-2zM719 636h1v1h-1zM720 635h2v1h-2zM725 634h2v1h-2zM727 633h1v1h-1zM731 632h1v1h-1zM732 631h2v1h-2zM737 630h1v1h-1zM738 629h2v1h-2zM743 628h1v1h-1zM744 627h2v1h-2zM749 626h3v1h-3zM755 625h1v1h-1zM756 624h2v1h-2zM761 623h3v1h-3zM767 622h1v1h-1zM768 621h2v1h-2zM773 620h3v1h-3zM779 619h1v1h-1zM780 618h2v1h-2zM785 616h1v1h-1zM786 615h1v1h-1zM787 614h1v1h-1zM791 612h3v1h-3zM797 610h2v1h-2zM799 609h1v1h-1zM803 607h2v1h-2zM805 606h1v1h-1zM809 605h1v1h-1zM810 604h2v1h-2zM815 602h1v1h-1zM816 601h1v1h-1zM817 600h1v1h-1zM821 597h2v1h-2zM823 596h1v1h-1zM827 594h2v1h-2zM829 593h1v1h-1zM833 591h2v1h-2zM835 590h1v1h-1zM839 588h1v1h-1zM840 587h2v1h-2zM845 584h2v1h-2zM847 583h1v1h-1zM851 582h1v1h-1zM852 581h2v1h-2zM857 580h1v1h-1zM858 579h2v1h-2zM863 578h3v1h-3zM869 577h3v1h-3zM875 576h3v1h-3zM881 576h3v1h-3zM887 576h3v1h-3zM893 576h3v1h-3zM899 577h1v1h-1zM900 578h2v1h-2zM905 578h1v1h-1zM906 579h2v1h-2zM911 579h1v1h-1zM912 580h2v1h-2zM917 581h3v1h-3zM923 582h3v1h-3zM929 584h2v1h-2zM931 585h1v1h-1zM935 587h3v1h-3zM941 589h2v1h-2zM943 590h1v1h-1zM947 592h2v1h-2zM949 593h1v1h-1zM953 595h2v1h-2zM955 596h1v1h-1zM959 598h2v1h-2zM961 599h1v1h-1zM965 601h1v1h-1zM966 602h2v1h-2zM971 605h2v1h-2zM973 606h1v1h-1zM977 607h1v1h-1zM978 608h2v1h-2zM983 610h1v1h-1zM984 611h2v1h-2zM989 614h2v1h-2zM991 615h1v1h-1zM995 616h1v1h-1zM996 617h2v1h-2zM1001 619h2v1h-2zM1003 620h1v1h-1zM1007 622h3v1h-3zM1013 624h2v1h-2zM1015 625h1v1h-1zM1019 626h1v1h-1zM1020 627h2v1h-2zM1025 627h1v1h-1zM1026 628h2v1h-2zM1031 629h3v1h-3zM1037 631h2v1h-2zM1039 632h1v1h-1zM1043 633h1v1h-1zM1044 634h2v1h-2zM1049 635h3v1h-3zM1055 636h3v1h-3zM1061 637h3v1h-3zM1067 638h3v1h-3zM1073 639h3v1h-3zM1079 640h1v1h-1zM1080 641h2v1h-2zM1085 642h3v1h-3zM1091 643h1v1h-1zM1092 644h2v1h-2zM1097 645h1v1h-1zM1098 646h2v1h-2zM1103 647h1v1h-1zM1104 648h2v1h-2zM1109 649h3v1h-3zM1115 650h1v1h-1zM1116 651h2v1h-2z" fill="#ff0000"/>
<rect x="1421" y="624" width="1" height="1" fill="#000"/>
<rect x="1421" y="569" width="1" height="1" fill="#000"/>
<line x1="5" y1="712.5" x2="1420" y2="712.5" stroke="#c0c0c0" stroke-dasharray="3 3"/>
<line x1="5" y1="763.5" x2="1420" y2="763.5" stroke="#c0c0c0" stroke-dasharray="3 3"/>
<path d="M5 750h1v1h-1zM6 748h1v2h-1zM7 746h1v2h-1zM8 744h1v2h-1zM9 743h1v1h-1zM10 741h1v2h-1zM11 739h1v2h-1zM12 737h1v2h-1zM13 736h1v1h-1zM14 737h1v1h-1zM15 738h1v2h-1zM16 740h1v1h-1zM17 741h1v1h-1zM18 742h1v1h-1zM19 743h1v2h-1zM20 745h1v1h-1zM21 746h3v1h-3zM24 747h4v1h-4zM28 748h4v1h-4zM32 749h4v1h-4zM36 750h3v1h-3zM39 751h3v1h-3zM42 752h2v1h-2zM44 753h4v1h-4zM48 752h4v1h-4zM52 751h2v1h-2zM54 749h1v2h-1zM55 748h1v1h-1zM56 746h1v2h-1zM57 745h1v1h-1zM58 743h1v2h-1zM59 742h1v1h-1zM60 740h1v2h-1zM61 739h2v1h-2zM63 740h3v1h-3zM66 741h2v1h-2zM68 742h6v1h-6zM74 743h8v1h-8zM82 744h4v1h-4zM86 745h1v1h-1zM87 746h1v1h-1zM88 747h1v1h-1zM89 748h1v2h-1zM90 750h1v1h-1zM91 751h1v1h-1zM92 752h1v1h-1zM93 753h2v1h-2zM95 752h3v1h-3zM98 751h2v1h-2zM100 750h2v1h-2zM102 751h1v1h-1zM103 752h1v1h-1zM104 753h1v1h-1zM105 754h1v1h-1zM106 755h1v1h-1zM107 756h1v1h-1zM108 757h2v1h-2zM109 758h1v1h-1zM110 755h1v2h-1zM111 753h1v2h-1zM112 751h1v2h-1zM113 749h1v2h-1zM114 747h1v2h-1zM115 745h1v2h-1zM116 743h1v2h-1zM117 741h18v1h-18zM117 742h1v1h-1zM135 742h2v1h-2zM137 743h2v1h-2zM139 744h2v1h-2zM141 745h1v1h-1zM142 744h1v1h-1zM143 743h1v1h-1zM144 742h1v1h-1zM145 740h1v2h-1zM146 739h1v1h-1zM147 738h1v1h-1zM148 737h1v1h-1zM149 736h2v1h-2zM151 735h2v1h-2zM153 734h2v1h-2zM155 733h2v1h-2zM157 732h2v1h-2zM159 731h2v1h-2zM161 730h2v1h-2zM163 729h2v1h-2zM165 728h3v1h-3zM168 727h4v1h-4zM172 726h12v1h-12zM184 725h4v1h-4zM188 724h10v1h-10zM198 725h2v1h-2zM200 726h2v1h-2zM202 727h1v1h-1zM203 728h2v1h-2zM205 729h5v1h-5zM210 728h4v1h-4zM214 729h2v1h-2zM216 730h2v1h-2zM218 731h1v1h-1zM219 732h2v1h-2zM221 733h5v1h-5zM226 734h8v1h-8zM234 735h4v1h-4zM238 734h2v1h-2zM240 733h2v1h-2zM242 732h1v1h-1zM243 731h2v1h-2zM245 730h3v1h-3zM248 731h4v1h-4zM252 732h11v1h-11zM263 731h3v1h-3zM266 730h2v1h-2zM268 729h10v1h-10zM278 728h2v1h-2zM280 727h2v1h-2zM282 726h1v1h-1zM283 725h2v1h-2zM285 724h2v1h-2zM287 723h3v1h-3zM290 722h2v1h-2zM292 721h2v1h-2zM294 720h2v1h-2zM296 719h2v1h-2zM298 718h1v1h-1zM299 717h2v1h-2zM301 716h9v1h-9zM310 717h1v1h-1zM311 718h1v1h-1zM312 719h1v1h-1zM313 720h1v1h-1zM314 721h1v1h-1zM315 722h1v1h-1zM316 723h1v1h-1zM317 724h3v1h-3zM320 725h4v1h-4zM324 726h2v1h-2zM326 725h1v1h-1zM327 724h1v1h-1zM328 723h1v1h-1zM329 721h1v2h-1zM330 720h1v1h-1zM331 719h1v1h-1zM332 718h1v1h-1zM333 717h2v1h-2zM335 716h3v1h-3zM338 715h2v1h-2zM340 714h3v1h-3zM343 713h2v1h-2zM345 712h2v1h-2zM347 711h2v1h-2zM349 710h1v1h-1zM350 711h1v2h-1zM351 713h1v1h-1zM352 714h1v2h-1zM353 716h1v1h-1zM354 717h1v2h-1zM355 719h1v1h-1zM356 720h1v2h-1zM357 722h13v1h-13zM370 723h12v1h-12zM382 724h1v1h-1zM383 725h1v1h-1zM384 726h1v1h-1zM385 727h1v1h-1zM386 728h1v1h-1zM387 729h1v1h-1zM388 730h1v1h-1zM389 731h2v1h-2zM391 732h2v1h-2zM393 733h2v1h-2zM395 734h2v1h-2zM397 735h5v1h-5zM402 734h6v1h-6zM408 735h4v1h-4zM412 736h22v1h-22zM434 737h5v1h-5zM439 736h3v1h-3zM442 735h2v1h-2zM444 734h2v1h-2zM446 735h1v2h-1zM447 737h1v1h-1zM448 738h1v1h-1zM449 739h1v2h-1zM450 741h1v1h-1zM451 742h1v1h-1zM452 743h1v2h-1zM453 745h1v1h-1zM454 744h1v1h-1zM455 743h1v1h-1zM456 742h2v1h-2zM458 741h1v1h-1zM459 740h1v1h-1zM460 739h1v1h-1zM461 738h3v1h-3zM464 739h4v1h-4zM468 740h4v1h-4zM472 739h4v1h-4zM476 738h2v1h-2zM478 736h1v2h-1zM479 734h1v2h-1zM480 732h1v2h-1zM481 731h1v1h-1zM482 729h1v2h-1zM483 727h1v2h-1zM484 725h1v2h-1zM485 724h5v1h-5zM490 725h4v1h-4zM494 723h1v2h-1zM495 721h1v2h-1zM496 720h1v1h-1zM497 718h1v2h-1zM498 717h1v1h-1zM499 715h1v2h-1zM500 713h1v2h-1zM501 712h1v1h-1zM502 713h1v2h-1zM503 715h1v1h-1zM504 716h1v1h-1zM505 717h1v2h-1zM506 719h1v1h-1zM507 720h1v1h-1zM508 721h1v2h-1zM509 723h5v1h-5zM514 722h5v1h-5zM519 721h2v1h-2zM521 720h2v1h-2zM523 719h2v1h-2zM525 718h1v1h-1zM526 719h1v1h-1zM527 720h1v1h-1zM528 721h1v1h-1zM529 722h1v1h-1zM530 723h1v1h-1zM531 724h1v1h-1zM532 725h1v1h-1zM533 726h1v1h-1zM534 727h1v1h-1zM535 728h1v2h-1zM536 730h1v1h-1zM537 731h1v1h-1zM538 732h1v1h-1zM539 733h1v2h-1zM540 735h1v1h-1zM541 736h10v1h-10zM551 737h3v1h-3zM554 738h2v1h-2zM556 739h12v1h-12zM568 740h4v1h-4zM572 741h2v1h-2zM574 742h2v1h-2zM576 743h2v1h-2zM578 744h1v1h-1zM579 745h2v1h-2zM581 746h1v1h-1zM582 747h1v2h-1zM583 749h1v2h-1zM584 751h1v1h-1zM585 752h1v2h-1zM586 754h1v1h-1zM587 755h1v2h-1zM588 757h1v2h-1zM589 759h5v1h-5zM594 758h4v1h-4zM598 757h1v1h-1zM599 756h1v1h-1zM600 755h2v1h-2zM602 754h1v1h-1zM603 753h1v1h-1zM604 752h1v1h-1zM605 751h5v1h-5zM610 752h5v1h-5zM615 753h3v1h-3zM618 754h2v1h-2zM620 755h2v1h-2zM622 754h2v1h-2zM624 753h1v1h-1zM625 752h1v1h-1zM626 751h2v1h-2zM628 750h1v1h-1zM629 749h5v1h-5zM634 748h8v1h-8zM642 747h5v1h-5zM647 746h3v1h-3zM650 745h2v1h-2zM652 744h4v1h-4zM656 745h4v1h-4zM660 746h2v1h-2zM662 744h1v2h-1zM663 743h1v1h-1zM664 741h1v2h-1zM665 740h1v1h-1zM666 738h1v2h-1zM667 737h1v1h-1zM668 735h1v2h-1zM669 734h2v1h-2zM671 735h2v1h-2zM673 736h2v1h-2zM675 737h2v1h-2zM677 738h3v1h-3zM680 739h4v1h-4zM684 740h2v1h-2zM686 739h1v1h-1zM687 738h1v1h-1zM688 737h2v1h-2zM690 736h1v1h-1zM691 735h1v1h-1zM692 734h1v1h-1zM693 733h13v1h-13zM706 732h5v1h-5zM711 733h3v1h-3zM714 734h2v1h-2zM716 735h6v1h-6zM722 734h4v1h-4zM726 733h1v1h-1zM727 732h1v1h-1zM728 731h2v1h-2zM730 730h1v1h-1zM731 729h1v1h-1zM732 728h1v1h-1zM733 727h3v1h-3zM736 726h4v1h-4zM740 725h12v1h-12zM752 726h4v1h-4zM756 727h3v1h-3zM759 726h2v1h-2zM761 725h2v1h-2zM763 724h2v1h-2zM765 723h1v1h-1zM766 722h1v1h-1zM767 721h1v1h-1zM768 720h1v1h-1zM769 718h1v2h-1zM770 717h1v1h-1zM771 716h1v1h-1zM772 715h1v1h-1zM773 714h1v1h-1zM774 713h2v1h-2zM776 712h1v1h-1zM777 711h1v1h-1zM778 710h2v1h-2zM780 709h1v1h-1zM781 708h1v1h-1zM782 707h2v1h-2zM784 706h1v1h-1zM785 705h1v1h-1zM786 704h2v1h-2zM788 703h1v1h-1zM789 702h2v1h-2zM791 703h3v1h-3zM794 704h2v1h-2zM796 705h6v1h-6zM802 704h4v1h-4zM806 703h2v1h-2zM808 702h1v1h-1zM809 701h1v1h-1zM810 700h2v1h-2zM812 699h1v1h-1zM813 698h13v1h-13zM826 699h4v1h-4zM830 700h2v1h-2zM832 701h2v1h-2zM834 702h1v1h-1zM835 703h2v1h-2zM837 704h13v1h-13zM850 703h8v1h-8zM858 704h4v1h-4zM862 705h1v1h-1zM863 706h1v2h-1zM864 708h1v1h-1zM865 709h1v1h-1zM866 710h1v1h-1zM867 711h1v2h-1zM868 713h1v1h-1zM869 714h2v1h-2zM871 713h2v1h-2zM873 712h2v1h-2zM875 711h2v1h-2zM877 710h1v1h-1zM878 711h1v1h-1zM879 712h1v1h-1zM880 713h2v1h-2zM882 714h1v1h-1zM883 715h1v1h-1zM884 716h1v1h-1zM885 717h1v1h-1zM886 718h2v1h-2zM888 719h1v1h-1zM889 720h1v1h-1zM890 721h2v1h-2zM892 722h1v1h-1zM893 723h2v1h-2zM895 722h3v1h-3zM898 721h2v1h-2zM900 720h2v1h-2zM902 719h2v1h-2zM904 718h2v1h-2zM906 717h1v1h-1zM907 716h2v1h-2zM909 715h5v1h-5zM914 714h4v1h-4zM917 715h1v1h-1zM918 716h1v2h-1zM919 718h1v2h-1zM920 720h1v2h-1zM921 722h1v2h-1zM922 724h1v2h-1zM923 726h1v2h-1zM924 728h1v2h-1zM925 730h1v2h-1zM926 732h1v1h-1zM927 733h1v2h-1zM928 735h1v1h-1zM929 736h1v1h-1zM930 737h1v1h-1zM931 738h1v2h-1zM932 740h1v1h-1zM933 741h1v1h-1zM934 742h2v1h-2zM936 743h2v1h-2zM938 744h1v1h-1zM939 745h2v1h-2zM941 746h1v1h-1zM942 747h1v1h-1zM943 748h1v2h-1zM944 750h1v1h-1zM945 751h1v1h-1zM946 752h1v1h-1zM947 753h1v2h-1zM948 755h1v1h-1zM949 756h1v1h-1zM950 755h1v1h-1zM951 753h1v2h-1zM952 752h1v1h-1zM953 751h1v1h-1zM954 750h1v1h-1zM955 748h1v2h-1zM956 747h1v1h-1zM957 746h5v1h-5zM962 747h5v1h-5zM967 746h2v1h-2zM969 745h2v1h-2zM971 744h2v1h-2zM973 743h2v1h-2zM975 742h3v1h-3zM978 741h2v1h-2zM980 740h6v1h-6zM986 741h4v1h-4zM990 742h2v1h-2zM992 743h2v1h-2zM994 744h1v1h-1zM995 745h2v1h-2zM997 746h1v1h-1zM998 745h1v1h-1zM999 744h1v1h-1zM1000 743h2v1h-2zM1002 742h1v1h-1zM1003 741h1v1h-1zM1004 740h1v1h-1zM1005 739h1v1h-1zM1006 740h2v1h-2zM1008 741h2v1h-2zM1010 742h1v1h-1zM1011 743h2v1h-2zM1013 744h1v1h-1zM1014 745h1v1h-1zM1015 746h1v2h-1zM1016 748h1v1h-1zM1017 749h1v1h-1zM1018 750h1v1h-1zM1019 751h1v2h-1zM1020 753h1v1h-1zM1021 754h2v1h-2zM1023 755h2v1h-2zM1025 756h2v1h-2zM1027 757h2v1h-2zM1029 758h3v1h-3zM1032 757h4v1h-4zM1036 756h2v1h-2zM1038 755h2v1h-2zM1040 754h1v1h-1zM1041 753h1v1h-1zM1042 752h2v1h-2zM1044 751h1v1h-1zM1045 750h1v1h-1zM1046 749h1v1h-1zM1047 748h1v1h-1zM1048 747h1v1h-1zM1049 746h1v1h-1zM1050 745h1v1h-1zM1051 744h1v1h-1zM1052 743h1v1h-1zM1053 742h2v1h-2zM1055 741h3v1h-3zM1058 740h2v1h-2zM1060 739h3v1h-3zM1063 740h3v1h-3zM1066 741h2v1h-2zM1068 742h2v1h-2zM1070 743h1v2h-1zM1071 745h1v1h-1zM1072 746h1v2h-1zM1073 748h1v1h-1zM1074 749h1v2h-1zM1075 751h1v1h-1zM1076 752h1v2h-1zM1077 754h5v1h-5zM1082 755h4v1h-4zM1086 756h1v1h-1zM1087 757h1v1h-1zM1088 758h1v1h-1zM1089 759h1v2h-1zM1090 761h1v1h-1zM1091 762h1v1h-1zM1092 763h1v1h-1zM1093 764h5v1h-5zM1098 765h4v1h-4zM1102 764h2v1h-2zM1104 763h2v1h-2zM1106 762h1v1h-1zM1107 761h2v1h-2zM1109 760h9v1h-9z" fill="#1e90ff"/>
<rect x="5" y="803" width="1" height="3" fill="#000"/>
<rect x="69" y="803" width="1" height="3" fill="#000"/>
<rect x="133" y="803" width="1" height="3" fill="#000"/>
<rect x="197" y="803" width="1" height="3" fill="#000"/>
<rect x="261" y="803" width="1" height="3" fill="#000"/>
<rect x="325" y="803" width="1" height="3" fill="#000"/>
<rect x="389" y="803" width="1" height="3" fill="#000"/>
<rect x="453" y="803" width="1" height="3" fill="#000"/>
<rect x="517" y="803" width="1" height="3" fill="#000"/>
<rect x="581" y="803" width="1" height="3" fill="#000"/>
<rect x="645" y="803" width="1" height="3" fill="#000"/>
<rect x="709" y="803" width="1" height="3" fill="#000"/>
<rect x="773" y="803" width="1" height="3" fill="#000"/>
<rect x="837" y="803" width="1" height="3" fill="#000"/>
<rect x="901" y="803" width="1" height="3" fill="#000"/>
<rect x="965" y="803" width="1" height="3" fill="#000"/>
<rect x="1029" y="803" width="1" height="3" fill="#000"/>
<rect x="1093" y="803" width="1" height="3" fill="#000"/>
</svg>
<div class="tbt" style="left:6.8px">H4</div>
<div class="tbt" style="left:35.8px">D1</div>
<div class="tbt" style="left:63.8px">W1</div>
<div class="tbt" style="left:89.9px">MN</div>
<div class="t" style="left:20.0px;top:29.7px;font-size:9.8px;line-height:9.8px;transform:matrix(0.9869,0,0.001,1,0,0);">USDCHF-,Daily</div>
<div class="t" style="left:94.0px;top:29.7px;font-size:9.8px;line-height:9.8px;transform:matrix(0.9396,0,0.001,1,0,0);">0.99401 0.99457 0.99374 0.99408</div>
<div class="t" style="left:8.8px;top:571.6px;font-size:9.8px;line-height:9.8px;transform:matrix(0.9537,0,0.001,1,0,0);">MACD(12,26,9) -0.004365 -0.002861</div>
<div class="t" style="left:9.5px;top:676.8px;font-size:9.8px;line-height:9.8px;transform:matrix(0.9346,0,0.001,1,0,0);">RSI(14) 32.4467</div>
<div class="t" style="left:1425.6px;top:29.7px;font-size:9.8px;line-height:9.8px;transform:matrix(0.9092,0,0.001,1,0,0);">1.02560</div>
<div class="t" style="left:1425.6px;top:62.7px;font-size:9.8px;line-height:9.8px;transform:matrix(0.9092,0,0.001,1,0,0);">1.02220</div>
<div class="t" style="left:1425.6px;top:95.7px;font-size:9.8px;line-height:9.8px;transform:matrix(0.9092,0,0.001,1,0,0);">1.01870</div>
<div class="t" style="left:1425.6px;top:128.7px;font-size:9.8px;line-height:9.8px;transform:matrix(0.9092,0,0.001,1,0,0);">1.01530</div>
<div class="t" style="left:1425.6px;top:161.7px;font-size:9.8px;line-height:9.8px;transform:matrix(0.9092,0,0.001,1,0,0);">1.01180</div>
<div class="t" style="left:1425.6px;top:194.7px;font-size:9.8px;line-height:9.8px;transform:matrix(0.9092,0,0.001,1,0,0);">1.00840</div>
<div class="t" style="left:1425.6px;top:227.7px;font-size:9.8px;line-height:9.8px;transform:matrix(0.9092,0,0.001,1,0,0);">1.00490</div>
<div class="t" style="left:1425.6px;top:260.7px;font-size:9.8px;line-height:9.8px;transform:matrix(0.9092,0,0.001,1,0,0);">1.00150</div>
<div class="t" style="left:1425.6px;top:293.7px;font-size:9.8px;line-height:9.8px;transform:matrix(0.9092,0,0.001,1,0,0);">0.99800</div>
<div class="t" style="left:1425.6px;top:326.7px;font-size:9.8px;line-height:9.8px;transform:matrix(0.9092,0,0.001,1,0,0);">0.99460</div>
<div class="t" style="left:1425.6px;top:359.7px;font-size:9.8px;line-height:9.8px;transform:matrix(0.9092,0,0.001,1,0,0);">0.99110</div>
<div class="t" style="left:1425.6px;top:392.7px;font-size:9.8px;line-height:9.8px;transform:matrix(0.9092,0,0.001,1,0,0);">0.98770</div>
<div class="t" style="left:1425.6px;top:425.7px;font-size:9.8px;line-height:9.8px;transform:matrix(0.9092,0,0.001,1,0,0);">0.98420</div>
<div class="t" style="left:1425.6px;top:458.7px;font-size:9.8px;line-height:9.8px;transform:matrix(0.9092,0,0.001,1,0,0);">0.98080</div>
<div class="t" style="left:1425.6px;top:491.7px;font-size:9.8px;line-height:9.8px;transform:matrix(0.9092,0,0.001,1,0,0);">0.97740</div>
<div class="t" style="left:1425.6px;top:524.7px;font-size:9.8px;line-height:9.8px;transform:matrix(0.9092,0,0.001,1,0,0);">0.97390</div>
<div class="t" style="left:1425.6px;top:557.7px;font-size:9.8px;line-height:9.8px;transform:matrix(0.9092,0,0.001,1,0,0);">0.97050</div>
<div class="t" style="left:1425.6px;top:331.7px;font-size:9.8px;line-height:9.8px;transform:matrix(0.9092,0,0.001,1,0,0);color:#fff;">0.99408</div>
<div class="t" style="left:1423.3px;top:569.9px;font-size:9.8px;line-height:9.8px;transform:matrix(0.9031,0,0.001,1,0,0);">0.005999</div>
<div class="t" style="left:1423.3px;top:619.9px;font-size:9.8px;line-height:9.8px;transform:matrix(0.9031,0,0.001,1,0,0);">0.00</div>
<div class="t" style="left:1423.3px;top:659.2px;font-size:9.8px;line-height:9.8px;transform:matrix(0.9031,0,0.001,1,0,0);">-0.004858</div>
<div class="t" style="left:1423.3px;top:674.9px;font-size:9.8px;line-height:9.8px;transform:matrix(0.9031,0,0.001,1,0,0);">100</div>
<div class="t" style="left:1423.3px;top:707.8px;font-size:9.8px;line-height:9.8px;transform:matrix(0.9031,0,0.001,1,0,0);">70</div>
<div class="t" style="left:1423.3px;top:758.7px;font-size:9.8px;line-height:9.8px;transform:matrix(0.9031,0,0.001,1,0,0);">30</div>
<div class="t" style="left:1423.3px;top:790.7px;font-size:9.8px;line-height:9.8px;transform:matrix(0.9031,0,0.001,1,0,0);">0</div>
<div class="t" style="left:3.8px;top:806.7px;font-size:9.8px;line-height:9.8px;transform:matrix(0.9378,0,0.001,1,0,0);">25 Dec 2018</div>
<div class="t" style="left:67.8px;top:806.7px;font-size:9.8px;line-height:9.8px;transform:matrix(0.9378,0,0.001,1,0,0);">3 Jan 2019</div>
<div class="t" style="left:131.8px;top:806.7px;font-size:9.8px;line-height:9.8px;transform:matrix(0.9378,0,0.001,1,0,0);">13 Jan 2019</div>
<div class="t" style="left:195.8px;top:806.7px;font-size:9.8px;line-height:9.8px;transform:matrix(0.9378,0,0.001,1,0,0);">22 Jan 2019</div>
<div class="t" style="left:259.8px;top:806.7px;font-size:9.8px;line-height:9.8px;transform:matrix(0.9378,0,0.001,1,0,0);">31 Jan 2019</div>
<div class="t" style="left:323.8px;top:806.7px;font-size:9.8px;line-height:9.8px;transform:matrix(0.9378,0,0.001,1,0,0);">10 Feb 2019</div>
<div class="t" style="left:387.8px;top:806.7px;font-size:9.8px;line-height:9.8px;transform:matrix(0.9378,0,0.001,1,0,0);">19 Feb 2019</div>
<div class="t" style="left:451.8px;top:806.7px;font-size:9.8px;line-height:9.8px;transform:matrix(0.9378,0,0.001,1,0,0);">28 Feb 2019</div>
<div class="t" style="left:515.8px;top:806.7px;font-size:9.8px;line-height:9.8px;transform:matrix(0.9378,0,0.001,1,0,0);">10 Mar 2019</div>
<div class="t" style="left:579.8px;top:806.7px;font-size:9.8px;line-height:9.8px;transform:matrix(0.9378,0,0.001,1,0,0);">19 Mar 2019</div>
<div class="t" style="left:643.8px;top:806.7px;font-size:9.8px;line-height:9.8px;transform:matrix(0.9378,0,0.001,1,0,0);">28 Mar 2019</div>
<div class="t" style="left:707.8px;top:806.7px;font-size:9.8px;line-height:9.8px;transform:matrix(0.9378,0,0.001,1,0,0);">7 Apr 2019</div>
<div class="t" style="left:771.8px;top:806.7px;font-size:9.8px;line-height:9.8px;transform:matrix(0.9378,0,0.001,1,0,0);">16 Apr 2019</div>
<div class="t" style="left:835.8px;top:806.7px;font-size:9.8px;line-height:9.8px;transform:matrix(0.9378,0,0.001,1,0,0);">26 Apr 2019</div>
<div class="t" style="left:899.8px;top:806.7px;font-size:9.8px;line-height:9.8px;transform:matrix(0.9378,0,0.001,1,0,0);">6 May 2019</div>
<div class="t" style="left:963.8px;top:806.7px;font-size:9.8px;line-height:9.8px;transform:matrix(0.9378,0,0.001,1,0,0);">15 May 2019</div>
<div class="t" style="left:1027.8px;top:806.7px;font-size:9.8px;line-height:9.8px;transform:matrix(0.9378,0,0.001,1,0,0);">24 May 2019</div>
<div class="t" style="left:1091.8px;top:806.7px;font-size:9.8px;line-height:9.8px;transform:matrix(0.9378,0,0.001,1,0,0);">3 Jun 2019</div>
<div class="tab" style="left:17.3px;transform:scaleX(0.9944)">EURUSD-,Daily</div>
<div class="tab" style="left:123.8px;transform:scaleX(1.0251)">AUDUSD-,Daily</div>
<div class="tab" style="left:234.2px;transform:scaleX(0.9952);color:#000">USDCHF-,Daily</div>
<div class="tab" style="left:341px;transform:scaleX(1.0109)">USDCAD-,Daily</div>
<div class="tab" style="left:450.2px;transform:scaleX(1.0207)">USDCNH-,Daily</div>
<div class="tab" style="left:561.2px;transform:scaleX(0.9964)">EURCHF-,Weekly</div>
</body></html>
